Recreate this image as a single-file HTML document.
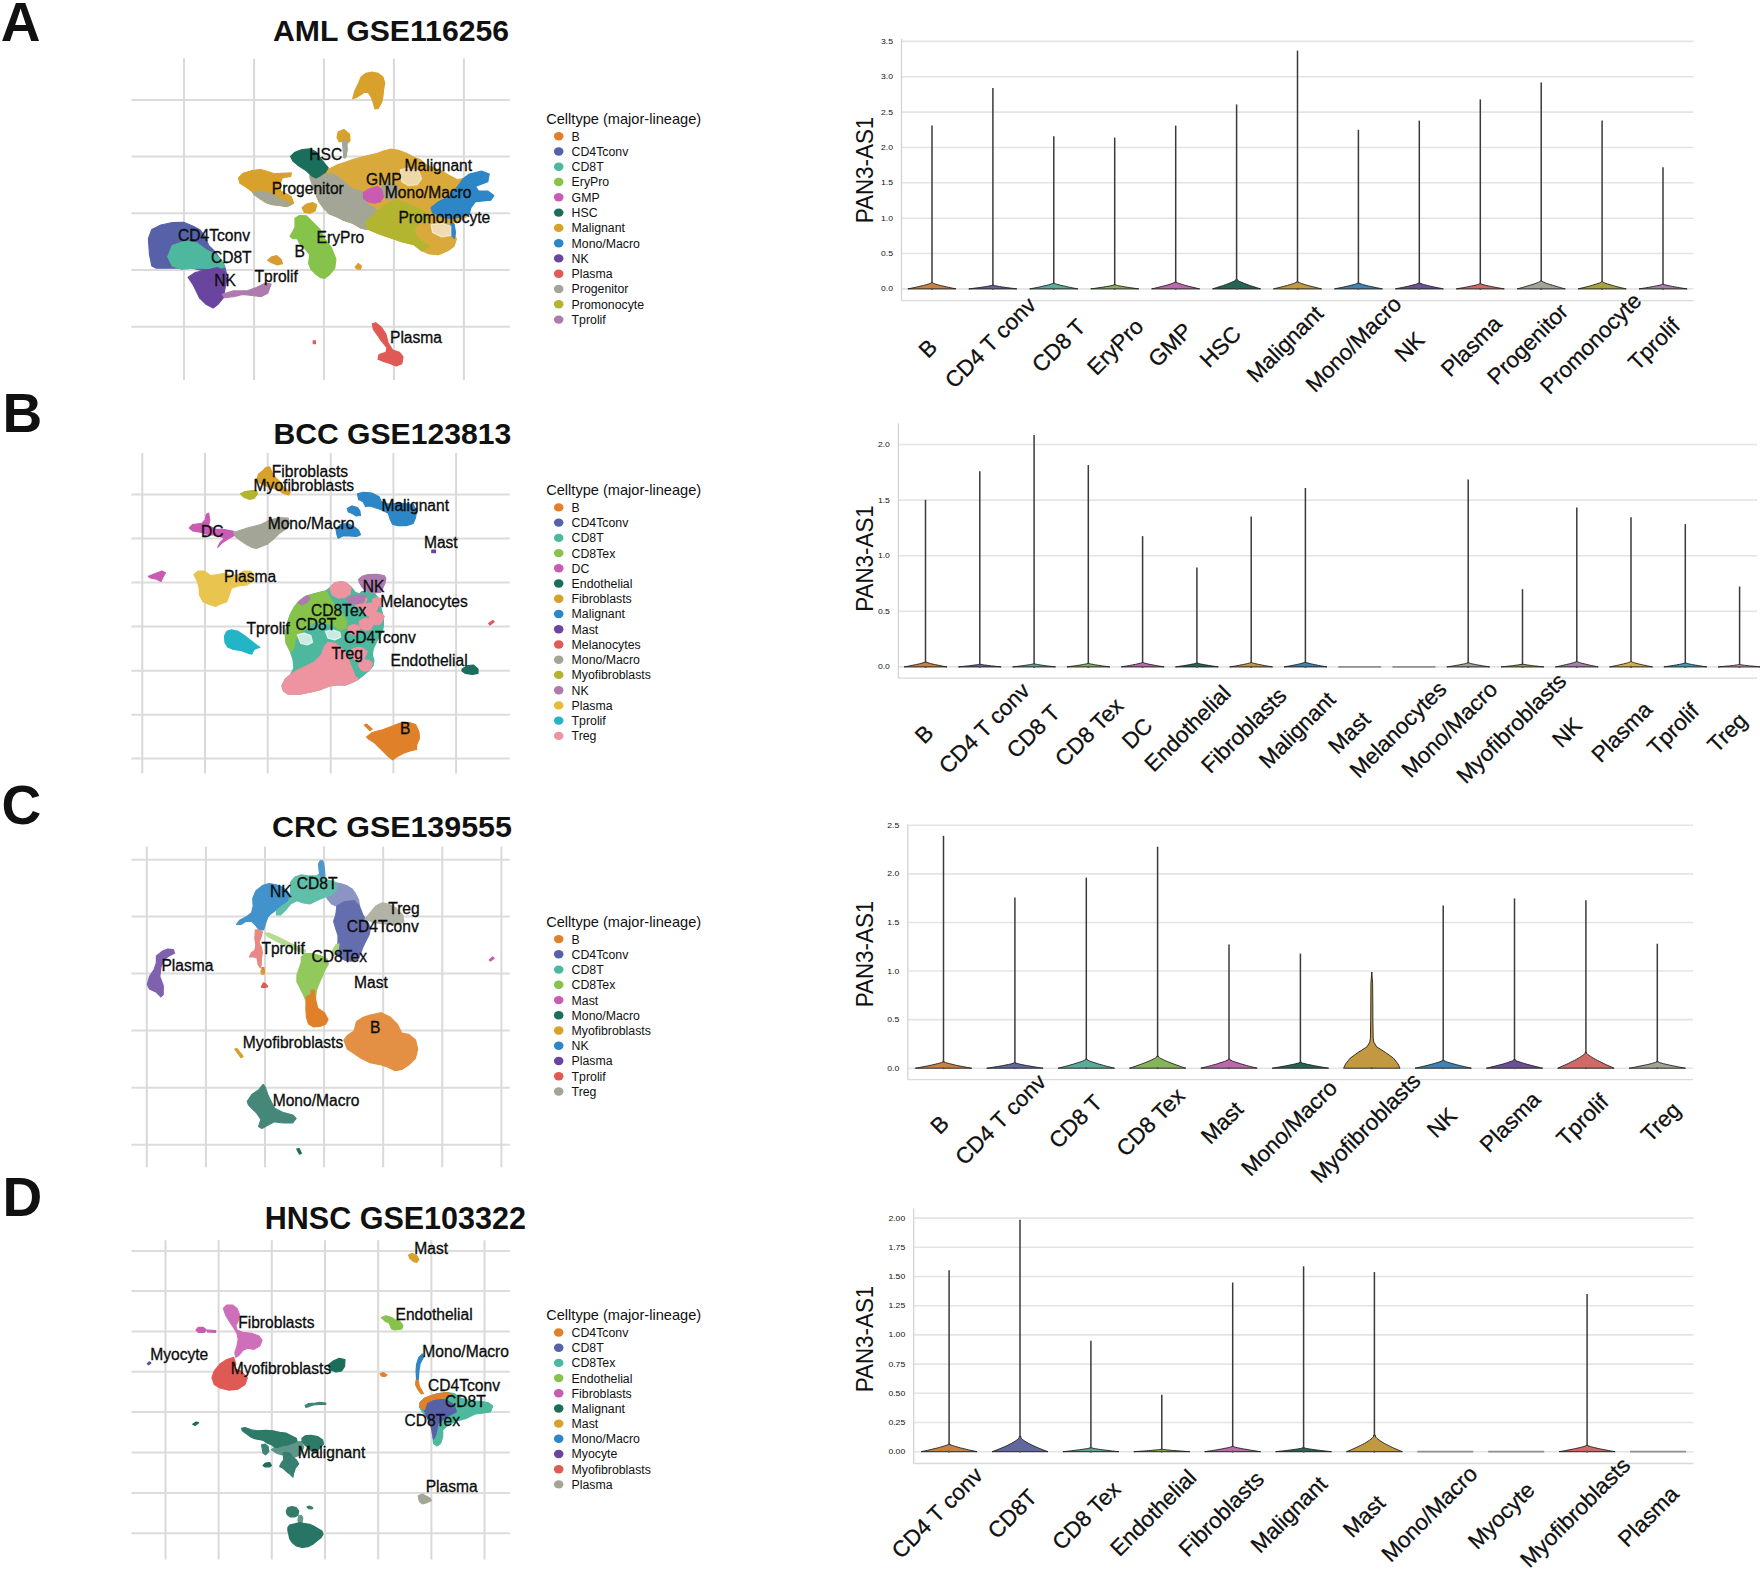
<!DOCTYPE html><html><head><meta charset="utf-8"><title>PAN3-AS1 expression</title>
<style>html,body{margin:0;padding:0;background:#fff;}body{width:1760px;height:1571px;overflow:hidden;}svg{display:block;}text{font-family:'Liberation Sans', Arial, Helvetica, sans-serif;fill:#111;}</style></head><body>
<svg width="1760" height="1571" viewBox="0 0 1760 1571">
<rect width="1760" height="1571" fill="#fff"/>
<text x="0.8" y="40.8" font-size="55" font-weight="bold" fill="#000">A</text>
<text x="2.5" y="432.0" font-size="55" font-weight="bold" fill="#000">B</text>
<text x="1.5" y="823.8" font-size="55" font-weight="bold" fill="#000">C</text>
<text x="2.5" y="1216.0" font-size="55" font-weight="bold" fill="#000">D</text>
<text x="273.0" y="40.6" font-size="30.2" font-weight="bold" fill="#000">AML GSE116256</text>
<text x="273.4" y="444.2" font-size="30.15" font-weight="bold" fill="#000">BCC GSE123813</text>
<text x="272.0" y="836.8" font-size="30.4" font-weight="bold" fill="#000">CRC GSE139555</text>
<text x="264.8" y="1228.9" font-size="30.5" font-weight="bold" fill="#000">HNSC GSE103322</text>
<g id="umap0">
<line x1="184" y1="58.6" x2="184" y2="380" stroke="#D9D9D9" stroke-width="2"/>
<line x1="254.1" y1="58.6" x2="254.1" y2="380" stroke="#D9D9D9" stroke-width="2"/>
<line x1="323.9" y1="58.6" x2="323.9" y2="380" stroke="#D9D9D9" stroke-width="2"/>
<line x1="393.9" y1="58.6" x2="393.9" y2="380" stroke="#D9D9D9" stroke-width="2"/>
<line x1="463.9" y1="58.6" x2="463.9" y2="380" stroke="#D9D9D9" stroke-width="2"/>
<line x1="131.4" y1="99.9" x2="509.8" y2="99.9" stroke="#DCDCDC" stroke-width="2"/>
<line x1="131.4" y1="156.4" x2="509.8" y2="156.4" stroke="#DCDCDC" stroke-width="2"/>
<line x1="131.4" y1="213.2" x2="509.8" y2="213.2" stroke="#DCDCDC" stroke-width="2"/>
<line x1="131.4" y1="270" x2="509.8" y2="270" stroke="#DCDCDC" stroke-width="2"/>
<line x1="131.4" y1="326.8" x2="509.8" y2="326.8" stroke="#DCDCDC" stroke-width="2"/>
<polygon points="352.7,98.7 355.1,90.2 358.7,83 361.1,76.9 366,73.3 372,72.1 378.1,73.3 382.9,76.9 384.7,83 383.5,90.2 382.9,96.3 381.7,102.3 378.1,108.4 375,109 373.2,102.3 370.8,96.3 368.4,92.7 364.8,92.1 361.1,94.5 356.3,97.5" fill="#D7A12B" stroke="#D7A12B" stroke-width="1.2" stroke-linejoin="round" />
<polygon points="337,137.5 338.2,131.8 343.9,129.5 349.5,134.1 350,140.9 347.3,143.2 343.9,140.9 339.3,142" fill="#D7A12B" stroke="#D7A12B" stroke-width="1.2" stroke-linejoin="round" />
<polygon points="342.3,140.9 346.8,140.5 347.3,150 345.7,158 343.9,158 343.2,150" fill="#A3A696" stroke="#A3A696" stroke-width="1.2" stroke-linejoin="round" />
<polygon points="238.4,177.9 243,173.3 251.5,170.7 260.7,169.5 267.6,171.5 274.5,173.8 281.4,173.3 291.4,172.9 290.6,176.4 282.2,177.9 279.9,184.8 280.6,191 286.8,194 291.4,197.1 293.7,203.2 286.8,206.6 279.1,205.4 271.4,204.5 266,202.5 259.9,198.6 254.5,194.8 251.5,191 245.3,186.4 240,183.3" fill="#D7A12B" stroke="#D7A12B" stroke-width="1.2" stroke-linejoin="round" />
<polygon points="315.9,171 328.2,169.5 337.4,164.9 346.6,161.8 352.7,159.5 361.9,157.2 368.1,155.7 377.3,153.4 383.4,151.1 391.1,149.2 398.7,150.3 406.4,153.4 414.1,157.2 420.2,159.5 426.3,164.9 434,168 441.7,171 449.4,175.6 457,179.5 463.2,178.7 469.3,183.3 466.2,217 452.4,223.2 454,232.4 456.3,239.3 454,246.2 447.8,250.8 438.6,254.6 429.4,253.9 421.7,250.8 414.1,244.7 401.8,241.6 392.6,238.5 383.4,235.4 375.7,232.4 368.1,229.3 360.4,227.8 352.7,223.2 343.5,220.1 337.4,217 329.7,214 323.6,207.8 319,201.7 315.9,194 312.8,186.4 309.8,177.2" fill="#DAA93C" stroke="#DAA93C" stroke-width="1.2" stroke-linejoin="round" />
<polygon points="302.1,207.8 306.7,204 312.8,202.5 316.7,204.8 315.1,210.9 309.8,213.2 304.4,212.4" fill="#D7A12B" stroke="#D7A12B" stroke-width="1.2" stroke-linejoin="round" />
<polygon points="253,192.5 260.7,191 269.9,193.3 276,197.1 282.2,200.2 288.3,202.5 291.4,204.8 286.8,206.3 279.1,205.1 271.4,204.5 266,202.5 259.9,198.6 254.5,194.8" fill="#A3A696" stroke="#A3A696" stroke-width="1.2" stroke-linejoin="round" />
<polygon points="309.8,175.6 315.9,177.9 325.1,174.1 334.3,174.1 343.5,181.8 352.7,189.4 361.9,191 365,197.1 368.1,204.8 374.2,207.8 377.3,210.9 374.2,217 369.6,223.2 366.5,229.3 360.4,227.8 352.7,223.2 343.5,220.1 337.4,217 329.7,214 323.6,207.8 319,201.7 315.9,194 312.8,186.4" fill="#A3A696" stroke="#A3A696" stroke-width="1.2" stroke-linejoin="round" />
<polygon points="381.9,184.8 389.5,182.5 397.2,186.4 398.7,194 394.1,198.6 386.5,198.6 382.6,194" fill="#A3A696" stroke="#A3A696" stroke-width="1.2" stroke-linejoin="round" />
<polygon points="290.6,156.4 294.4,152.6 302.1,149.5 309.8,148.8 315.9,151.8 322,160.3 328.2,168 325.1,172.6 320.5,175.6 315.9,177.9 311.3,175.6 306.7,171 302.1,168 297.5,164.9 292.9,161" fill="#1C6E5C" stroke="#1C6E5C" stroke-width="1.2" stroke-linejoin="round" />
<polygon points="368.1,229.3 365,223.2 371.1,217 377.3,210.9 383.4,206.3 391.1,201.7 398.7,200.2 406.4,203.2 414.1,206.3 423.3,210.9 427.9,217 426.3,223.2 418.7,223.2 414.1,229.3 417.1,237 421.7,241.6 429.4,246.2 421.7,250.8 414.1,244.7 401.8,241.6 392.6,238.5 383.4,235.4 375.7,232.4" fill="#B3B530" stroke="#B3B530" stroke-width="1.2" stroke-linejoin="round" />
<polygon points="463.2,178.7 469.3,174.1 481.6,171 489.2,174.1 487.7,181.8 475.4,186.4 478.5,191 487.7,191 493.8,195.6 490.8,200.2 475.4,201.7 470.8,207.8 469.3,214 460.1,217 450.9,218.6 441.7,217 432.5,212.4 431,207.8 438.6,201.7 447.8,197.1 454,191 460.1,183.3" fill="#2D86C5" stroke="#2D86C5" stroke-width="1.2" stroke-linejoin="round" />
<polygon points="450.9,223.2 454,223.9 455.5,232.4 454.3,238.5 451.7,235.4" fill="#2D86C5" stroke="#2D86C5" stroke-width="1.2" stroke-linejoin="round" />
<polygon points="363.5,192.5 368.1,189.4 377.3,186.4 381.9,189.4 383.4,197.1 380.3,201.7 374.2,203.2 368.1,201.7 363.5,198.6" fill="#C95BB3" stroke="#C95BB3" stroke-width="1.2" stroke-linejoin="round" />
<polygon points="400.3,169.5 407.9,168 418.7,171 421.7,178.7 417.1,184.8 407.9,185.6 401.8,181.8" fill="#FFFFFF" stroke="#FFFFFF" stroke-width="1.2" stroke-linejoin="round" fill-opacity="0.55" stroke-opacity="0.55"/>
<polygon points="431,224.7 441.7,223.2 450.9,226.2 450.9,235.4 441.7,237 432.5,232.4" fill="#FFFFFF" stroke="#FFFFFF" stroke-width="1.2" stroke-linejoin="round" fill-opacity="0.6" stroke-opacity="0.6"/>
<polygon points="295,218.2 299.5,215.5 306.4,215.9 313.2,222.7 320,229.5 324.5,238.6 331.4,247.7 335.9,259.1 334.8,268.2 329.1,275 324.5,278.4 320,277.3 315.5,273.9 310.9,269.3 308.6,263.6 309.8,254.5 304.1,247.7 299.5,243.2 297.3,238.6 292.7,238.6 290,236.4 292.7,231.8 295,227.3" fill="#86C34A" stroke="#86C34A" stroke-width="1.2" stroke-linejoin="round" />
<polygon points="267.7,260.2 271.8,256.8 276.8,255.7 280.9,259.1 282.5,263.6 276.8,264.8 271.1,262.5" fill="#D99A35" stroke="#D99A35" stroke-width="1.2" stroke-linejoin="round" />
<polygon points="355.2,267 358.2,263.6 361.4,265.9 360.5,269.3 356.8,268.9" fill="#D7A12B" stroke="#D7A12B" stroke-width="1.2" stroke-linejoin="round" />
<polygon points="148.4,238.6 151.8,229.5 160.9,225 172.3,222.7 183.6,222.3 192.7,226.1 199.5,229.5 205.2,236.4 208.6,245.5 215.5,252.3 220,259.1 224.5,265.9 226.8,275 220,277.3 210.9,275 201.8,270.5 192.7,268.2 183.6,268.2 174.5,268.2 165.5,268.2 156.4,268.2 151.8,265.9 149.5,254.5" fill="#5661A8" stroke="#5661A8" stroke-width="1.2" stroke-linejoin="round" />
<polygon points="172.3,245.5 185.9,240.9 197.3,243.2 206.4,250 215.5,254.5 222.3,261.4 224.5,267 215.5,269.3 204.1,268.2 192.7,268.2 181.4,269.3 172.3,265.9 167.7,256.8" fill="#4DB89E" stroke="#4DB89E" stroke-width="1.2" stroke-linejoin="round" />
<polygon points="188.2,277.3 195,272.7 206.4,270 217.7,267.7 224.5,271.6 226.8,279.5 224.5,290.9 223.4,297.7 217.7,304.5 213.2,308 206.4,304.5 199.5,297.7 195,288.6 192.7,284.1" fill="#6A45A0" stroke="#6A45A0" stroke-width="1.2" stroke-linejoin="round" />
<polygon points="222.3,294.3 233.6,290.9 247.3,290.9 256.4,287.5 265.5,283 271.1,284.1 267.7,293.2 260.9,296.6 251.8,295.5 242.7,294.3 233.6,296.6 224.5,297.7" fill="#AE7BAE" stroke="#AE7BAE" stroke-width="1.2" stroke-linejoin="round" />
<polygon points="372.3,323.9 375.7,322.7 381.4,327.3 385.9,334.1 388.2,343.2 392.7,350 399.5,352.3 403,356.8 401.8,363.6 396.1,365.9 390.5,363.6 383.6,361.4 378,359.1 379.1,354.5 385.9,352.3 387,347.7 381.4,340.9 376.8,334.1 373.4,329.5" fill="#E05A55" stroke="#E05A55" stroke-width="1.2" stroke-linejoin="round" />
<polygon points="313.2,340.9 315.5,340.9 315.5,343.6 313.2,343.6" fill="#E05A55" stroke="#E05A55" stroke-width="1.2" stroke-linejoin="round" />
<text x="309.3" y="159.5" font-size="15.6" fill="#000" stroke="#000" stroke-width="0.3">HSC</text>
<text x="404.5" y="170.5" font-size="15.6" fill="#000" stroke="#000" stroke-width="0.3">Malignant</text>
<text x="366.1" y="185.2" font-size="15.6" fill="#000" stroke="#000" stroke-width="0.3">GMP</text>
<text x="271.8" y="194.3" font-size="15.6" fill="#000" stroke="#000" stroke-width="0.3">Progenitor</text>
<text x="384.8" y="197.7" font-size="15.6" fill="#000" stroke="#000" stroke-width="0.3">Mono/Macro</text>
<text x="398.4" y="222.7" font-size="15.6" fill="#000" stroke="#000" stroke-width="0.3">Promonocyte</text>
<text x="178" y="240.5" font-size="15.6" fill="#000" stroke="#000" stroke-width="0.3">CD4Tconv</text>
<text x="316.6" y="242.7" font-size="15.6" fill="#000" stroke="#000" stroke-width="0.3">EryPro</text>
<text x="294.5" y="257.3" font-size="15.6" fill="#000" stroke="#000" stroke-width="0.3">B</text>
<text x="210.9" y="262.5" font-size="15.6" fill="#000" stroke="#000" stroke-width="0.3">CD8T</text>
<text x="254.5" y="282.3" font-size="15.6" fill="#000" stroke="#000" stroke-width="0.3">Tprolif</text>
<text x="214.3" y="286.4" font-size="15.6" fill="#000" stroke="#000" stroke-width="0.3">NK</text>
<text x="390" y="343.2" font-size="15.6" fill="#000" stroke="#000" stroke-width="0.3">Plasma</text>
</g>
<text x="546.2" y="123.8" font-size="14.6" fill="#222">Celltype (major-lineage)</text>
<ellipse cx="558.7" cy="136.2" rx="4.8" ry="4.2" fill="#E0812A"/>
<text x="571.6" y="140.6" font-size="12.3" fill="#222">B</text>
<ellipse cx="558.7" cy="151.5" rx="4.8" ry="4.2" fill="#5661A8"/>
<text x="571.6" y="155.9" font-size="12.3" fill="#222">CD4Tconv</text>
<ellipse cx="558.7" cy="166.8" rx="4.8" ry="4.2" fill="#4DB89E"/>
<text x="571.6" y="171.2" font-size="12.3" fill="#222">CD8T</text>
<ellipse cx="558.7" cy="182" rx="4.8" ry="4.2" fill="#86C34A"/>
<text x="571.6" y="186.4" font-size="12.3" fill="#222">EryPro</text>
<ellipse cx="558.7" cy="197.3" rx="4.8" ry="4.2" fill="#C95BB3"/>
<text x="571.6" y="201.7" font-size="12.3" fill="#222">GMP</text>
<ellipse cx="558.7" cy="212.6" rx="4.8" ry="4.2" fill="#1C6E5C"/>
<text x="571.6" y="217" font-size="12.3" fill="#222">HSC</text>
<ellipse cx="558.7" cy="227.9" rx="4.8" ry="4.2" fill="#D7A12B"/>
<text x="571.6" y="232.3" font-size="12.3" fill="#222">Malignant</text>
<ellipse cx="558.7" cy="243.2" rx="4.8" ry="4.2" fill="#2D86C5"/>
<text x="571.6" y="247.6" font-size="12.3" fill="#222">Mono/Macro</text>
<ellipse cx="558.7" cy="258.4" rx="4.8" ry="4.2" fill="#6A45A0"/>
<text x="571.6" y="262.8" font-size="12.3" fill="#222">NK</text>
<ellipse cx="558.7" cy="273.7" rx="4.8" ry="4.2" fill="#E05A55"/>
<text x="571.6" y="278.1" font-size="12.3" fill="#222">Plasma</text>
<ellipse cx="558.7" cy="289" rx="4.8" ry="4.2" fill="#A3A696"/>
<text x="571.6" y="293.4" font-size="12.3" fill="#222">Progenitor</text>
<ellipse cx="558.7" cy="304.3" rx="4.8" ry="4.2" fill="#B3B530"/>
<text x="571.6" y="308.7" font-size="12.3" fill="#222">Promonocyte</text>
<ellipse cx="558.7" cy="319.6" rx="4.8" ry="4.2" fill="#AE7BAE"/>
<text x="571.6" y="324" font-size="12.3" fill="#222">Tprolif</text>
<g id="violin0">
<line x1="902" y1="288.9" x2="1693.5" y2="288.9" stroke="#E4E4E4" stroke-width="1.6"/>
<text x="893" y="291.5" text-anchor="end" font-family="DejaVu Sans, sans-serif" font-size="7.2" fill="#333" transform="translate(893 288.9) scale(1.2 0.98) translate(-893 -288.9)">0.0</text>
<line x1="902" y1="253.5" x2="1693.5" y2="253.5" stroke="#E4E4E4" stroke-width="1.6"/>
<text x="893" y="256.1" text-anchor="end" font-family="DejaVu Sans, sans-serif" font-size="7.2" fill="#333" transform="translate(893 253.5) scale(1.2 0.98) translate(-893 -253.5)">0.5</text>
<line x1="902" y1="218.2" x2="1693.5" y2="218.2" stroke="#E4E4E4" stroke-width="1.6"/>
<text x="893" y="220.8" text-anchor="end" font-family="DejaVu Sans, sans-serif" font-size="7.2" fill="#333" transform="translate(893 218.2) scale(1.2 0.98) translate(-893 -218.2)">1.0</text>
<line x1="902" y1="182.8" x2="1693.5" y2="182.8" stroke="#E4E4E4" stroke-width="1.6"/>
<text x="893" y="185.4" text-anchor="end" font-family="DejaVu Sans, sans-serif" font-size="7.2" fill="#333" transform="translate(893 182.8) scale(1.2 0.98) translate(-893 -182.8)">1.5</text>
<line x1="902" y1="147.5" x2="1693.5" y2="147.5" stroke="#E4E4E4" stroke-width="1.6"/>
<text x="893" y="150.1" text-anchor="end" font-family="DejaVu Sans, sans-serif" font-size="7.2" fill="#333" transform="translate(893 147.5) scale(1.2 0.98) translate(-893 -147.5)">2.0</text>
<line x1="902" y1="112.1" x2="1693.5" y2="112.1" stroke="#E4E4E4" stroke-width="1.6"/>
<text x="893" y="114.7" text-anchor="end" font-family="DejaVu Sans, sans-serif" font-size="7.2" fill="#333" transform="translate(893 112.1) scale(1.2 0.98) translate(-893 -112.1)">2.5</text>
<line x1="902" y1="76.8" x2="1693.5" y2="76.8" stroke="#E4E4E4" stroke-width="1.6"/>
<text x="893" y="79.4" text-anchor="end" font-family="DejaVu Sans, sans-serif" font-size="7.2" fill="#333" transform="translate(893 76.8) scale(1.2 0.98) translate(-893 -76.8)">3.0</text>
<line x1="902" y1="41.4" x2="1693.5" y2="41.4" stroke="#E4E4E4" stroke-width="1.6"/>
<text x="893" y="44" text-anchor="end" font-family="DejaVu Sans, sans-serif" font-size="7.2" fill="#333" transform="translate(893 41.4) scale(1.2 0.98) translate(-893 -41.4)">3.5</text>
<line x1="901.5" y1="38.7" x2="901.5" y2="300.7" stroke="#D3D3D3" stroke-width="1.3"/>
<line x1="901.5" y1="300.7" x2="1693.5" y2="300.7" stroke="#D9D9D9" stroke-width="1.3"/>
<polygon points="907.9,288.9 909.8,288.5 911.7,288.1 913.6,287.7 915.4,287.3 917.2,286.9 918.9,286.5 920.6,286.1 922.2,285.8 923.7,285.4 925.2,285 926.7,284.6 928,284.2 929.2,283.8 930.3,283.4 931.2,283 931.2,282.6 932.7,282.6 932.7,283 933.6,283.4 934.7,283.8 935.9,284.2 937.3,284.6 938.7,285 940.2,285.4 941.7,285.8 943.4,286.1 945,286.5 946.7,286.9 948.5,287.3 950.3,287.7 952.2,288.1 954.1,288.5 956,288.9" fill="#C98241" stroke="#1E1E1E" stroke-width="0.9" stroke-linejoin="round"/>
<line x1="932" y1="125.6" x2="932" y2="283.1" stroke="#3A3A3A" stroke-width="1.5"/>
<circle cx="932" cy="288.9" r="1.1" fill="#555"/>
<text x="928" y="348.7" text-anchor="middle" dominant-baseline="central" font-size="22.4" fill="#000" stroke="#000" stroke-width="0.25" transform="rotate(-45 928 348.7)">B</text>
<polygon points="968.8,288.9 970.8,288.7 972.7,288.4 974.5,288.2 976.3,287.9 978.1,287.7 979.8,287.5 981.5,287.2 983.1,287 984.7,286.8 986.2,286.5 987.6,286.3 988.9,286 990.2,285.8 991.3,285.6 992.2,285.3 992.2,285.1 993.6,285.1 993.6,285.3 994.5,285.6 995.6,285.8 996.9,286 998.2,286.3 999.6,286.5 1001.1,286.8 1002.7,287 1004.3,287.2 1005.9,287.5 1007.7,287.7 1009.4,287.9 1011.3,288.2 1013.1,288.4 1015,288.7 1016.9,288.9" fill="#60689E" stroke="#1E1E1E" stroke-width="0.9" stroke-linejoin="round"/>
<line x1="992.9" y1="88.1" x2="992.9" y2="285.6" stroke="#3A3A3A" stroke-width="1.5"/>
<circle cx="992.9" cy="288.9" r="1.1" fill="#555"/>
<text x="990.5" y="342.8" text-anchor="middle" dominant-baseline="central" font-size="22.4" fill="#000" stroke="#000" stroke-width="0.25" transform="rotate(-45 990.5 342.8)">CD4 T conv</text>
<polygon points="1029.7,288.9 1031.7,288.5 1033.6,288.2 1035.4,287.8 1037.3,287.4 1039,287.1 1040.7,286.7 1042.4,286.3 1044,285.9 1045.6,285.6 1047.1,285.2 1048.5,284.8 1049.8,284.5 1051.1,284.1 1052.2,283.7 1053.1,283.4 1053.1,283 1054.5,283 1054.5,283.4 1055.4,283.7 1056.5,284.1 1057.8,284.5 1059.1,284.8 1060.5,285.2 1062,285.6 1063.6,285.9 1065.2,286.3 1066.9,286.7 1068.6,287.1 1070.4,287.4 1072.2,287.8 1074,288.2 1075.9,288.5 1077.9,288.9" fill="#5AAB97" stroke="#1E1E1E" stroke-width="0.9" stroke-linejoin="round"/>
<line x1="1053.8" y1="136.2" x2="1053.8" y2="283.5" stroke="#3A3A3A" stroke-width="1.5"/>
<circle cx="1053.8" cy="288.9" r="1.1" fill="#555"/>
<text x="1058.8" y="345.8" text-anchor="middle" dominant-baseline="central" font-size="22.4" fill="#000" stroke="#000" stroke-width="0.25" transform="rotate(-45 1058.8 345.8)">CD8 T</text>
<polygon points="1090.7,288.9 1092.6,288.6 1094.5,288.4 1096.4,288.1 1098.2,287.8 1099.9,287.6 1101.7,287.3 1103.3,287.1 1105,286.8 1106.5,286.5 1108,286.3 1109.4,286 1110.8,285.8 1112,285.5 1113.1,285.2 1114,285 1114,284.7 1115.5,284.7 1115.5,285 1116.3,285.2 1117.5,285.5 1118.7,285.8 1120,286 1121.5,286.3 1122.9,286.5 1124.5,286.8 1126.1,287.1 1127.8,287.3 1129.5,287.6 1131.3,287.8 1133.1,288.1 1135,288.4 1136.9,288.6 1138.8,288.9" fill="#86B459" stroke="#1E1E1E" stroke-width="0.9" stroke-linejoin="round"/>
<line x1="1114.7" y1="137.6" x2="1114.7" y2="285.2" stroke="#3A3A3A" stroke-width="1.5"/>
<circle cx="1114.7" cy="288.9" r="1.1" fill="#555"/>
<text x="1115.4" y="346.9" text-anchor="middle" dominant-baseline="central" font-size="22.4" fill="#000" stroke="#000" stroke-width="0.25" transform="rotate(-45 1115.4 346.9)">EryPro</text>
<polygon points="1151.6,288.9 1153.5,288.5 1155.4,288 1157.3,287.6 1159.1,287.1 1160.9,286.7 1162.6,286.3 1164.3,285.8 1165.9,285.4 1167.4,285 1168.9,284.5 1170.3,284.1 1171.7,283.6 1172.9,283.2 1174,282.8 1174.9,282.3 1174.9,281.9 1176.4,281.9 1176.4,282.3 1177.3,282.8 1178.4,283.2 1179.6,283.6 1181,284.1 1182.4,284.5 1183.9,285 1185.4,285.4 1187,285.8 1188.7,286.3 1190.4,286.7 1192.2,287.1 1194,287.6 1195.9,288 1197.8,288.5 1199.7,288.9" fill="#BB69AB" stroke="#1E1E1E" stroke-width="0.9" stroke-linejoin="round"/>
<line x1="1175.7" y1="125.6" x2="1175.7" y2="282.4" stroke="#3A3A3A" stroke-width="1.5"/>
<circle cx="1175.7" cy="288.9" r="1.1" fill="#555"/>
<text x="1170.2" y="345" text-anchor="middle" dominant-baseline="central" font-size="22.4" fill="#000" stroke="#000" stroke-width="0.25" transform="rotate(-45 1170.2 345)">GMP</text>
<polygon points="1212.5,288.9 1214.4,288.3 1216.3,287.7 1218.2,287.1 1220,286.5 1221.8,286 1223.5,285.4 1225.2,284.8 1226.8,284.2 1228.4,283.6 1229.9,283 1231.3,282.4 1232.6,281.8 1233.8,281.3 1235,280.7 1235.9,280.1 1235.9,279.5 1237.3,279.5 1237.3,280.1 1238.2,280.7 1239.3,281.3 1240.5,281.8 1241.9,282.4 1243.3,283 1244.8,283.6 1246.4,284.2 1248,284.8 1249.6,285.4 1251.4,286 1253.1,286.5 1254.9,287.1 1256.8,287.7 1258.7,288.3 1260.6,288.9" fill="#266456" stroke="#1E1E1E" stroke-width="0.9" stroke-linejoin="round"/>
<line x1="1236.6" y1="104.4" x2="1236.6" y2="280" stroke="#3A3A3A" stroke-width="1.5"/>
<circle cx="1236.6" cy="288.9" r="1.1" fill="#555"/>
<text x="1220.5" y="346.8" text-anchor="middle" dominant-baseline="central" font-size="22.4" fill="#000" stroke="#000" stroke-width="0.25" transform="rotate(-45 1220.5 346.8)">HSC</text>
<polygon points="1273.4,288.9 1275.4,288.4 1277.3,288 1279.1,287.5 1280.9,287.1 1282.7,286.6 1284.4,286.2 1286.1,285.8 1287.7,285.3 1289.3,284.8 1290.8,284.4 1292.2,283.9 1293.5,283.5 1294.8,283 1295.9,282.6 1296.8,282.1 1296.8,281.7 1298.2,281.7 1298.2,282.1 1299.1,282.6 1300.2,283 1301.5,283.5 1302.8,283.9 1304.2,284.4 1305.7,284.8 1307.3,285.3 1308.9,285.8 1310.6,286.2 1312.3,286.6 1314.1,287.1 1315.9,287.5 1317.7,288 1319.6,288.4 1321.6,288.9" fill="#C29940" stroke="#1E1E1E" stroke-width="0.9" stroke-linejoin="round"/>
<line x1="1297.5" y1="50.6" x2="1297.5" y2="282.2" stroke="#3A3A3A" stroke-width="1.5"/>
<circle cx="1297.5" cy="288.9" r="1.1" fill="#555"/>
<text x="1285" y="344" text-anchor="middle" dominant-baseline="central" font-size="22.4" fill="#000" stroke="#000" stroke-width="0.25" transform="rotate(-45 1285 344)">Malignant</text>
<polygon points="1334.4,288.9 1336.3,288.5 1338.2,288.1 1340.1,287.8 1341.9,287.4 1343.6,287 1345.4,286.6 1347,286.3 1348.6,285.9 1350.2,285.5 1351.7,285.1 1353.1,284.8 1354.5,284.4 1355.7,284 1356.8,283.6 1357.7,283.3 1357.7,282.9 1359.1,282.9 1359.1,283.3 1360,283.6 1361.2,284 1362.4,284.4 1363.7,284.8 1365.1,285.1 1366.6,285.5 1368.2,285.9 1369.8,286.3 1371.5,286.6 1373.2,287 1375,287.4 1376.8,287.8 1378.7,288.1 1380.6,288.5 1382.5,288.9" fill="#4083B2" stroke="#1E1E1E" stroke-width="0.9" stroke-linejoin="round"/>
<line x1="1358.4" y1="129.8" x2="1358.4" y2="283.4" stroke="#3A3A3A" stroke-width="1.5"/>
<circle cx="1358.4" cy="288.9" r="1.1" fill="#555"/>
<text x="1353.6" y="344.1" text-anchor="middle" dominant-baseline="central" font-size="22.4" fill="#000" stroke="#000" stroke-width="0.25" transform="rotate(-45 1353.6 344.1)">Mono/Macro</text>
<polygon points="1395.3,288.9 1397.2,288.5 1399.1,288.1 1401,287.8 1402.8,287.4 1404.6,287 1406.3,286.6 1408,286.3 1409.6,285.9 1411.1,285.5 1412.6,285.1 1414,284.8 1415.4,284.4 1416.6,284 1417.7,283.6 1418.6,283.3 1418.6,282.9 1420.1,282.9 1420.1,283.3 1421,283.6 1422.1,284 1423.3,284.4 1424.7,284.8 1426.1,285.1 1427.6,285.5 1429.1,285.9 1430.7,286.3 1432.4,286.6 1434.1,287 1435.9,287.4 1437.7,287.8 1439.6,288.1 1441.5,288.5 1443.4,288.9" fill="#6C5095" stroke="#1E1E1E" stroke-width="0.9" stroke-linejoin="round"/>
<line x1="1419.3" y1="120.6" x2="1419.3" y2="283.4" stroke="#3A3A3A" stroke-width="1.5"/>
<circle cx="1419.3" cy="288.9" r="1.1" fill="#555"/>
<text x="1409.6" y="347" text-anchor="middle" dominant-baseline="central" font-size="22.4" fill="#000" stroke="#000" stroke-width="0.25" transform="rotate(-45 1409.6 347)">NK</text>
<polygon points="1456.2,288.9 1458.1,288.6 1460,288.2 1461.9,287.9 1463.7,287.6 1465.5,287.2 1467.2,286.9 1468.9,286.6 1470.5,286.2 1472.1,285.9 1473.5,285.6 1475,285.3 1476.3,284.9 1477.5,284.6 1478.7,284.3 1479.5,283.9 1479.5,283.6 1481,283.6 1481,283.9 1481.9,284.3 1483,284.6 1484.2,284.9 1485.6,285.3 1487,285.6 1488.5,285.9 1490,286.2 1491.7,286.6 1493.3,286.9 1495.1,287.2 1496.8,287.6 1498.6,287.9 1500.5,288.2 1502.4,288.6 1504.3,288.9" fill="#CF6A66" stroke="#1E1E1E" stroke-width="0.9" stroke-linejoin="round"/>
<line x1="1480.3" y1="99.4" x2="1480.3" y2="284.1" stroke="#3A3A3A" stroke-width="1.5"/>
<circle cx="1480.3" cy="288.9" r="1.1" fill="#555"/>
<text x="1471.4" y="346.4" text-anchor="middle" dominant-baseline="central" font-size="22.4" fill="#000" stroke="#000" stroke-width="0.25" transform="rotate(-45 1471.4 346.4)">Plasma</text>
<polygon points="1517.1,288.9 1519.1,288.4 1521,287.9 1522.8,287.4 1524.6,286.8 1526.4,286.3 1528.1,285.8 1529.8,285.3 1531.4,284.8 1533,284.3 1534.5,283.8 1535.9,283.3 1537.2,282.8 1538.5,282.2 1539.6,281.7 1540.5,281.2 1540.5,280.7 1541.9,280.7 1541.9,281.2 1542.8,281.7 1543.9,282.2 1545.2,282.8 1546.5,283.3 1547.9,283.8 1549.4,284.3 1551,284.8 1552.6,285.3 1554.3,285.8 1556,286.3 1557.7,286.8 1559.6,287.4 1561.4,287.9 1563.3,288.4 1565.3,288.9" fill="#A2A498" stroke="#1E1E1E" stroke-width="0.9" stroke-linejoin="round"/>
<line x1="1541.2" y1="82.5" x2="1541.2" y2="281.2" stroke="#3A3A3A" stroke-width="1.5"/>
<circle cx="1541.2" cy="288.9" r="1.1" fill="#555"/>
<text x="1527.8" y="344.1" text-anchor="middle" dominant-baseline="central" font-size="22.4" fill="#000" stroke="#000" stroke-width="0.25" transform="rotate(-45 1527.8 344.1)">Progenitor</text>
<polygon points="1578.1,288.9 1580,288.4 1581.9,288 1583.7,287.5 1585.6,287.1 1587.3,286.6 1589.1,286.2 1590.7,285.7 1592.3,285.2 1593.9,284.8 1595.4,284.3 1596.8,283.9 1598.1,283.4 1599.4,283 1600.5,282.5 1601.4,282.1 1601.4,281.6 1602.8,281.6 1602.8,282.1 1603.7,282.5 1604.8,283 1606.1,283.4 1607.4,283.9 1608.8,284.3 1610.3,284.8 1611.9,285.2 1613.5,285.7 1615.2,286.2 1616.9,286.6 1618.7,287.1 1620.5,287.5 1622.3,288 1624.2,288.4 1626.2,288.9" fill="#A3A441" stroke="#1E1E1E" stroke-width="0.9" stroke-linejoin="round"/>
<line x1="1602.1" y1="120.6" x2="1602.1" y2="282.1" stroke="#3A3A3A" stroke-width="1.5"/>
<circle cx="1602.1" cy="288.9" r="1.1" fill="#555"/>
<text x="1590.9" y="343.6" text-anchor="middle" dominant-baseline="central" font-size="22.4" fill="#000" stroke="#000" stroke-width="0.25" transform="rotate(-45 1590.9 343.6)">Promonocyte</text>
<polygon points="1639,288.9 1640.9,288.6 1642.8,288.3 1644.7,288 1646.5,287.7 1648.3,287.4 1650,287.1 1651.6,286.8 1653.3,286.5 1654.8,286.2 1656.3,285.9 1657.7,285.6 1659.1,285.3 1660.3,285 1661.4,284.7 1662.3,284.4 1662.3,284.1 1663.8,284.1 1663.8,284.4 1664.7,284.7 1665.8,285 1667,285.3 1668.3,285.6 1669.8,285.9 1671.3,286.2 1672.8,286.5 1674.4,286.8 1676.1,287.1 1677.8,287.4 1679.6,287.7 1681.4,288 1683.3,288.3 1685.2,288.6 1687.1,288.9" fill="#A881A8" stroke="#1E1E1E" stroke-width="0.9" stroke-linejoin="round"/>
<line x1="1663" y1="167.3" x2="1663" y2="284.6" stroke="#3A3A3A" stroke-width="1.5"/>
<circle cx="1663" cy="288.9" r="1.1" fill="#555"/>
<text x="1654.1" y="344.1" text-anchor="middle" dominant-baseline="central" font-size="22.4" fill="#000" stroke="#000" stroke-width="0.25" transform="rotate(-45 1654.1 344.1)">Tprolif</text>
<text x="865.0" y="170.0" text-anchor="middle" dominant-baseline="central" font-size="22.4" transform="translate(865.0 170.0) rotate(-90) scale(1 1.05) translate(-865.0 -170.0)">PAN3-AS1</text>
</g>
<g id="umap1">
<line x1="142.3" y1="453" x2="142.3" y2="773.4" stroke="#D9D9D9" stroke-width="2"/>
<line x1="205" y1="453" x2="205" y2="773.4" stroke="#D9D9D9" stroke-width="2"/>
<line x1="267.7" y1="453" x2="267.7" y2="773.4" stroke="#D9D9D9" stroke-width="2"/>
<line x1="330.7" y1="453" x2="330.7" y2="773.4" stroke="#D9D9D9" stroke-width="2"/>
<line x1="393.4" y1="453" x2="393.4" y2="773.4" stroke="#D9D9D9" stroke-width="2"/>
<line x1="456.1" y1="453" x2="456.1" y2="773.4" stroke="#D9D9D9" stroke-width="2"/>
<line x1="131.4" y1="494.5" x2="509.8" y2="494.5" stroke="#DCDCDC" stroke-width="2"/>
<line x1="131.4" y1="538.4" x2="509.8" y2="538.4" stroke="#DCDCDC" stroke-width="2"/>
<line x1="131.4" y1="582.5" x2="509.8" y2="582.5" stroke="#DCDCDC" stroke-width="2"/>
<line x1="131.4" y1="626.6" x2="509.8" y2="626.6" stroke="#DCDCDC" stroke-width="2"/>
<line x1="131.4" y1="670.7" x2="509.8" y2="670.7" stroke="#DCDCDC" stroke-width="2"/>
<line x1="131.4" y1="714.8" x2="509.8" y2="714.8" stroke="#DCDCDC" stroke-width="2"/>
<line x1="131.4" y1="758.6" x2="509.8" y2="758.6" stroke="#DCDCDC" stroke-width="2"/>
<polygon points="265.7,467.7 269.7,466.9 272,472.5 275.2,477.3 280,482 283.2,486.8 290.3,492.4 288.7,494.8 283.2,493.2 278.4,490 272,487.6 265.7,486 259.3,482.8 256.9,478.9 258.5,474.1 262.5,470.9" fill="#D7A12B" stroke="#D7A12B" stroke-width="1.2" stroke-linejoin="round" />
<polygon points="240.5,493.9 245,491.6 251.8,490.5 256.4,490.5 257.5,493.9 254.1,498.4 249.5,499.5 243.9,497.3" fill="#B3B530" stroke="#B3B530" stroke-width="1.2" stroke-linejoin="round" />
<polygon points="357.5,493.9 363.2,492.3 372.3,493.2 379.1,496.8 381.4,501.8 388.2,504.1 399.5,503 413.2,504.5 416.6,510.9 415.5,517.7 413.2,523.4 406.4,525.7 398.4,525.7 392.7,524.5 390.5,520 388.2,513.2 381.4,509.8 374.5,507.5 370,505.9 365.5,506.4 363.2,501.8 358.6,499.5" fill="#2D86C5" stroke="#2D86C5" stroke-width="1.2" stroke-linejoin="round" />
<polygon points="347.3,508.6 351.8,505.9 357.5,507.5 359.8,510.9 360.5,515.5 356.4,515.9 351.8,513.2 348.4,512" fill="#2D86C5" stroke="#2D86C5" stroke-width="1.2" stroke-linejoin="round" />
<polygon points="335.9,529.1 340.5,524.5 347.3,523.4 354.1,526.8 358.6,530.2 360.5,534.8 356.4,536.4 349.5,535.9 342.7,535.9 338.2,538.2 337,534.8" fill="#2D86C5" stroke="#2D86C5" stroke-width="1.2" stroke-linejoin="round" />
<polygon points="189.3,528 192.7,524.5 201.8,523.4 205.2,520 206.4,514.3 208.6,513.2 209.8,520 208.6,525.7 215.5,529.1 224.5,529.5 233.6,531.4 235.9,534.8 229.1,538.2 222.3,542.7 217.7,547.3 220,542.7 224.5,538.2 215.5,534.8 208.6,534.8 201.8,532.5 192.7,530.9" fill="#C95BB3" stroke="#C95BB3" stroke-width="1.2" stroke-linejoin="round" />
<polygon points="148.4,576.4 154.1,574.1 162,571.1 165.5,572.7 163.2,576.8 160.9,581.4 156.4,579.1 150.7,578" fill="#C95BB3" stroke="#C95BB3" stroke-width="1.2" stroke-linejoin="round" />
<polygon points="233.6,532.5 247.3,528 260.9,524.5 270,520 279.1,517.7 288.2,518.2 289.3,523.4 285.9,529.1 279.1,533.6 274.5,538.2 267.7,543.9 256.4,548.4 251.8,547.3 247.3,545 240.5,540.5 235.9,537" fill="#A3A696" stroke="#A3A696" stroke-width="1.2" stroke-linejoin="round" />
<polygon points="193.9,574.5 198.4,571.1 204.1,571.1 210.9,575.7 217.7,574.5 224.5,573.4 231.4,575.7 238.2,574.5 243.9,571.1 250.7,571.1 254.1,575.7 251.8,581.4 247.3,584.8 238.2,585.9 231.4,588.2 229.1,595 226.8,601.8 220,604.1 215.5,606.4 208.6,604.1 203,601.8 199.5,595 199.1,588.2 197.3,581.4" fill="#E9C54F" stroke="#E9C54F" stroke-width="1.2" stroke-linejoin="round" />
<polygon points="224.5,635.9 226.8,631.4 231.4,629.8 238.2,631.4 245,635.9 250.7,640.5 256.4,645 259.8,647.3 254.1,649.5 251.8,654.1 247.3,653 241.6,650.7 233.6,649.5 228,647.3 225,642.7" fill="#22B5C8" stroke="#22B5C8" stroke-width="1.2" stroke-linejoin="round" />
<polygon points="329.7,587.9 334.8,582.8 341.6,581.5 345.9,582.8 351,587 355.2,592.2 359.5,593.9 362,591.3 368,592.2 374.8,593.9 378.2,598.1 379.9,604.1 381.7,610.9 383.4,617.7 383.4,625.4 382.5,631.4 379.1,637.3 375.7,643.3 373.1,649.3 372.3,655.2 374,660.3 373.1,665.5 368.9,670.6 363.8,674.8 358.6,679.1 351.8,682.5 345,685.1 338.2,684.6 329.7,685.9 321.1,689.3 310.9,691.9 298.1,694.4 288.8,694.4 283.6,691 281.9,685.9 285.3,679.1 290.5,674.8 293.9,668 293,659.5 290.5,651.8 286.2,643.3 285.3,634.8 287,624.5 290.5,614.3 294.7,606.6 299,601.5 305.8,596.4 314.3,593.9 321.1,592.2 326.3,590.5" fill="#4DB89E" stroke="#4DB89E" stroke-width="1.2" stroke-linejoin="round" />
<polygon points="329.7,587.9 334.8,582.8 341.6,581.5 345.9,582.8 351,587 350.1,593.9 345,597.3 338.2,598.1 332.2,594.7" fill="#EE93A0" stroke="#EE93A0" stroke-width="1.2" stroke-linejoin="round" />
<polygon points="281.9,685.9 285.3,679.1 291.3,674 298.1,669.7 305.8,666.3 314.3,662 321.1,655.2 324.5,646.7 328,642.4 334.8,643.3 339.9,646.7 345,651.8 348.4,659.5 351.8,668 355.2,676.5 358.6,679.1 351.8,682.5 345,685.1 338.2,684.6 329.7,685.9 321.1,689.3 310.9,691.9 298.1,694.4 288.8,694.4 283.6,691" fill="#EE93A0" stroke="#EE93A0" stroke-width="1.2" stroke-linejoin="round" />
<polygon points="365.3,603.2 363.4,606.3 358.7,607.2 355.5,605.4 352.9,601.7 353.4,598 358.5,595.7 362.8,596.3 367,599.1" fill="#EE93A0" stroke="#EE93A0" stroke-width="1.2" stroke-linejoin="round" />
<polygon points="376.2,611.5 374.1,615.1 368.9,616.1 365.2,614.1 362.3,609.9 362.9,605.6 368.5,603.2 373.5,603.8 378.1,607.1" fill="#EE93A0" stroke="#EE93A0" stroke-width="1.2" stroke-linejoin="round" />
<polygon points="382.5,620.4 380.5,623.8 375.5,624.7 372.1,622.8 369.4,618.9 370,614.8 375.3,612.6 379.9,613.1 384.3,616.2" fill="#EE93A0" stroke="#EE93A0" stroke-width="1.2" stroke-linejoin="round" />
<polygon points="372.3,626.3 370.3,629.6 365.3,630.5 361.9,628.6 359.2,624.7 359.7,620.7 365,618.4 369.7,618.9 374.1,622.1" fill="#EE93A0" stroke="#EE93A0" stroke-width="1.2" stroke-linejoin="round" />
<polygon points="381.6,603.2 380.2,605.6 376.6,606.2 374.2,604.9 372.3,602.1 372.7,599.3 376.5,597.7 379.7,598 382.8,600.3" fill="#EE93A0" stroke="#EE93A0" stroke-width="1.2" stroke-linejoin="round" />
<polygon points="365.3,656.2 363.1,659.9 357.5,660.9 353.6,658.8 350.6,654.5 351.3,649.9 357.2,647.4 362.4,648 367.2,651.4" fill="#EE93A0" stroke="#EE93A0" stroke-width="1.2" stroke-linejoin="round" />
<polygon points="370.9,667.2 369,670.3 364.3,671.2 361.1,669.4 358.6,665.7 359.1,662 364.1,659.8 368.4,660.3 372.6,663.2" fill="#EE93A0" stroke="#EE93A0" stroke-width="1.2" stroke-linejoin="round" />
<polygon points="358.8,631.2 357.2,633.9 353.1,634.7 350.2,633.1 348,629.9 348.5,626.6 352.8,624.7 356.7,625.1 360.3,627.7" fill="#EE93A0" stroke="#EE93A0" stroke-width="1.2" stroke-linejoin="round" />
<polygon points="286.2,643.3 285.3,634.8 287,624.5 290.5,614.3 294.7,606.6 299,601.5 305.8,596.4 314.3,593.9 321.1,592.2 326.3,591.3 329.7,598.1 334.8,605.8 342.4,614.3 346.7,621.1 346.7,628 339.9,629.7 334.8,626.3 329.7,624.5 322.8,621.1 316,621.1 310.9,624.5 304.1,629.7 298.1,634.8 294.7,641.6 293.9,648.4 291.3,651.8" fill="#86C34A" stroke="#86C34A" stroke-width="1.2" stroke-linejoin="round" />
<polygon points="298.1,602.4 304.1,597.3 308.4,595.6 310.1,599 306.6,602.4 301.5,604.9" fill="#AE7BAE" stroke="#AE7BAE" stroke-width="1.2" stroke-linejoin="round" />
<polygon points="346.7,599 353.5,595.6 360.3,594.7 365.5,595.6 363.8,602.4 355.2,604.1 348.4,603.2" fill="#AE7BAE" stroke="#AE7BAE" stroke-width="1.2" stroke-linejoin="round" />
<polygon points="297.3,634.8 304.1,633.1 310.9,635.6 312.6,642.4 307.5,645 300.7,643.3" fill="#FFFFFF" stroke="#FFFFFF" stroke-width="1.2" stroke-linejoin="round" fill-opacity="0.7" stroke-opacity="0.7"/>
<polygon points="325.4,631.4 333.1,629.7 339.9,632.2 340.7,637.3 334.8,639.9 328,638.2" fill="#FFFFFF" stroke="#FFFFFF" stroke-width="1.2" stroke-linejoin="round" fill-opacity="0.7" stroke-opacity="0.7"/>
<polygon points="358.6,579.4 362,576.4 368,574.7 376.5,574.3 384.2,575.5 385.9,578.5 385.1,582.8 382.5,588.8 380.8,592.2 375.7,593 370.6,592.2 365.5,590.5 362,587 359.5,582.8" fill="#AE7BAE" stroke="#AE7BAE" stroke-width="1.2" stroke-linejoin="round" />
<polygon points="366.6,737 372.3,732.5 381.4,730.2 390.5,726.8 399.5,723.4 408.6,722.3 415.5,724.5 418.9,731.4 419.5,738.2 416.6,745 416.6,749.5 410.9,750.7 404.1,753 397.3,756.4 392.7,759.8 388.2,756.4 381.4,749.5 374.5,742.7 368.9,739.3" fill="#E0812A" stroke="#E0812A" stroke-width="1.2" stroke-linejoin="round" />
<polygon points="364.3,725 366.6,724.1 372.3,729.1 370,730.5" fill="#E0812A" stroke="#E0812A" stroke-width="1.2" stroke-linejoin="round" />
<polygon points="462,668.9 467.7,665.5 473.4,665 478,668.9 478,673.4 472.3,674.5 465.5,673.4 462,671.1" fill="#1C6E5C" stroke="#1C6E5C" stroke-width="1.2" stroke-linejoin="round" />
<polygon points="431.8,550 435.5,550 435.5,552.7 431.8,552.7" fill="#6A45A0" stroke="#6A45A0" stroke-width="1.2" stroke-linejoin="round" />
<polygon points="488.6,623.4 492.7,620.5 494.1,621.8 490,625" fill="#E05A55" stroke="#E05A55" stroke-width="1.2" stroke-linejoin="round" />
<text x="271.8" y="476.8" font-size="15.6" fill="#000" stroke="#000" stroke-width="0.3">Fibroblasts</text>
<text x="253.6" y="491.1" font-size="15.6" fill="#000" stroke="#000" stroke-width="0.3">Myofibroblasts</text>
<text x="381.4" y="510.9" font-size="15.6" fill="#000" stroke="#000" stroke-width="0.3">Malignant</text>
<text x="267.7" y="528.6" font-size="15.6" fill="#000" stroke="#000" stroke-width="0.3">Mono/Macro</text>
<text x="201.1" y="537" font-size="15.6" fill="#000" stroke="#000" stroke-width="0.3">DC</text>
<text x="423.9" y="547.7" font-size="15.6" fill="#000" stroke="#000" stroke-width="0.3">Mast</text>
<text x="224.1" y="582" font-size="15.6" fill="#000" stroke="#000" stroke-width="0.3">Plasma</text>
<text x="362.7" y="591.6" font-size="15.6" fill="#000" stroke="#000" stroke-width="0.3">NK</text>
<text x="380.2" y="606.8" font-size="15.6" fill="#000" stroke="#000" stroke-width="0.3">Melanocytes</text>
<text x="310.9" y="615.5" font-size="15.6" fill="#000" stroke="#000" stroke-width="0.3">CD8Tex</text>
<text x="295.5" y="630.2" font-size="15.6" fill="#000" stroke="#000" stroke-width="0.3">CD8T</text>
<text x="246.6" y="634.3" font-size="15.6" fill="#000" stroke="#000" stroke-width="0.3">Tprolif</text>
<text x="343.9" y="643.4" font-size="15.6" fill="#000" stroke="#000" stroke-width="0.3">CD4Tconv</text>
<text x="331.4" y="658.6" font-size="15.6" fill="#000" stroke="#000" stroke-width="0.3">Treg</text>
<text x="390.5" y="665.5" font-size="15.6" fill="#000" stroke="#000" stroke-width="0.3">Endothelial</text>
<text x="400" y="733.6" font-size="15.6" fill="#000" stroke="#000" stroke-width="0.3">B</text>
</g>
<text x="546.2" y="495.1" font-size="14.6" fill="#222">Celltype (major-lineage)</text>
<ellipse cx="558.7" cy="507.4" rx="4.8" ry="4.2" fill="#E0812A"/>
<text x="571.6" y="511.8" font-size="12.3" fill="#222">B</text>
<ellipse cx="558.7" cy="522.6" rx="4.8" ry="4.2" fill="#5661A8"/>
<text x="571.6" y="527" font-size="12.3" fill="#222">CD4Tconv</text>
<ellipse cx="558.7" cy="537.9" rx="4.8" ry="4.2" fill="#4DB89E"/>
<text x="571.6" y="542.3" font-size="12.3" fill="#222">CD8T</text>
<ellipse cx="558.7" cy="553.1" rx="4.8" ry="4.2" fill="#86C34A"/>
<text x="571.6" y="557.5" font-size="12.3" fill="#222">CD8Tex</text>
<ellipse cx="558.7" cy="568.3" rx="4.8" ry="4.2" fill="#C95BB3"/>
<text x="571.6" y="572.7" font-size="12.3" fill="#222">DC</text>
<ellipse cx="558.7" cy="583.5" rx="4.8" ry="4.2" fill="#1C6E5C"/>
<text x="571.6" y="587.9" font-size="12.3" fill="#222">Endothelial</text>
<ellipse cx="558.7" cy="598.8" rx="4.8" ry="4.2" fill="#D7A12B"/>
<text x="571.6" y="603.2" font-size="12.3" fill="#222">Fibroblasts</text>
<ellipse cx="558.7" cy="614" rx="4.8" ry="4.2" fill="#2D86C5"/>
<text x="571.6" y="618.4" font-size="12.3" fill="#222">Malignant</text>
<ellipse cx="558.7" cy="629.2" rx="4.8" ry="4.2" fill="#6A45A0"/>
<text x="571.6" y="633.6" font-size="12.3" fill="#222">Mast</text>
<ellipse cx="558.7" cy="644.5" rx="4.8" ry="4.2" fill="#E05A55"/>
<text x="571.6" y="648.9" font-size="12.3" fill="#222">Melanocytes</text>
<ellipse cx="558.7" cy="659.7" rx="4.8" ry="4.2" fill="#A3A696"/>
<text x="571.6" y="664.1" font-size="12.3" fill="#222">Mono/Macro</text>
<ellipse cx="558.7" cy="674.9" rx="4.8" ry="4.2" fill="#B3B530"/>
<text x="571.6" y="679.3" font-size="12.3" fill="#222">Myofibroblasts</text>
<ellipse cx="558.7" cy="690.2" rx="4.8" ry="4.2" fill="#AE7BAE"/>
<text x="571.6" y="694.6" font-size="12.3" fill="#222">NK</text>
<ellipse cx="558.7" cy="705.4" rx="4.8" ry="4.2" fill="#E6BC35"/>
<text x="571.6" y="709.8" font-size="12.3" fill="#222">Plasma</text>
<ellipse cx="558.7" cy="720.6" rx="4.8" ry="4.2" fill="#22B5C8"/>
<text x="571.6" y="725" font-size="12.3" fill="#222">Tprolif</text>
<ellipse cx="558.7" cy="735.9" rx="4.8" ry="4.2" fill="#EE93A0"/>
<text x="571.6" y="740.2" font-size="12.3" fill="#222">Treg</text>
<g id="violin1">
<line x1="898.9" y1="666.9" x2="1757" y2="666.9" stroke="#E4E4E4" stroke-width="1.6"/>
<text x="889.9" y="669.5" text-anchor="end" font-family="DejaVu Sans, sans-serif" font-size="7.2" fill="#333" transform="translate(889.9 666.9) scale(1.2 0.98) translate(-889.9 -666.9)">0.0</text>
<line x1="898.9" y1="611.3" x2="1757" y2="611.3" stroke="#E4E4E4" stroke-width="1.6"/>
<text x="889.9" y="613.9" text-anchor="end" font-family="DejaVu Sans, sans-serif" font-size="7.2" fill="#333" transform="translate(889.9 611.3) scale(1.2 0.98) translate(-889.9 -611.3)">0.5</text>
<line x1="898.9" y1="555.7" x2="1757" y2="555.7" stroke="#E4E4E4" stroke-width="1.6"/>
<text x="889.9" y="558.3" text-anchor="end" font-family="DejaVu Sans, sans-serif" font-size="7.2" fill="#333" transform="translate(889.9 555.7) scale(1.2 0.98) translate(-889.9 -555.7)">1.0</text>
<line x1="898.9" y1="500.1" x2="1757" y2="500.1" stroke="#E4E4E4" stroke-width="1.6"/>
<text x="889.9" y="502.7" text-anchor="end" font-family="DejaVu Sans, sans-serif" font-size="7.2" fill="#333" transform="translate(889.9 500.1) scale(1.2 0.98) translate(-889.9 -500.1)">1.5</text>
<line x1="898.9" y1="444.5" x2="1757" y2="444.5" stroke="#E4E4E4" stroke-width="1.6"/>
<text x="889.9" y="447.1" text-anchor="end" font-family="DejaVu Sans, sans-serif" font-size="7.2" fill="#333" transform="translate(889.9 444.5) scale(1.2 0.98) translate(-889.9 -444.5)">2.0</text>
<line x1="898.4" y1="423.4" x2="898.4" y2="678.2" stroke="#D3D3D3" stroke-width="1.3"/>
<line x1="898.4" y1="678.2" x2="1757" y2="678.2" stroke="#D9D9D9" stroke-width="1.3"/>
<polygon points="904.1,666.9 905.8,666.6 907.5,666.3 909.2,666 910.8,665.6 912.4,665.3 913.9,665 915.4,664.7 916.8,664.4 918.2,664.1 919.5,663.8 920.8,663.5 922,663.1 923.1,662.8 924.1,662.5 924.9,662.2 924.9,661.9 926.2,661.9 926.2,662.2 927,662.5 928,662.8 929.1,663.1 930.3,663.5 931.5,663.8 932.9,664.1 934.2,664.4 935.7,664.7 937.2,665 938.7,665.3 940.3,665.6 941.9,666 943.6,666.3 945.2,666.6 947,666.9" fill="#C98241" stroke="#1E1E1E" stroke-width="0.9" stroke-linejoin="round"/>
<line x1="925.5" y1="499.8" x2="925.5" y2="662.4" stroke="#3A3A3A" stroke-width="1.5"/>
<circle cx="925.5" cy="666.9" r="1.1" fill="#555"/>
<text x="924.3" y="734.4" text-anchor="middle" dominant-baseline="central" font-size="22.4" fill="#000" stroke="#000" stroke-width="0.25" transform="rotate(-45 924.3 734.4)">B</text>
<polygon points="958.4,666.9 960.1,666.7 961.8,666.5 963.4,666.4 965.1,666.2 966.6,666 968.2,665.9 969.7,665.7 971.1,665.5 972.5,665.3 973.8,665.1 975.1,665 976.3,664.8 977.4,664.6 978.4,664.4 979.2,664.3 979.2,664.1 980.4,664.1 980.4,664.3 981.2,664.4 982.2,664.6 983.3,664.8 984.5,665 985.8,665.1 987.1,665.3 988.5,665.5 990,665.7 991.4,665.9 993,666 994.6,666.2 996.2,666.4 997.8,666.5 999.5,666.7 1001.2,666.9" fill="#60689E" stroke="#1E1E1E" stroke-width="0.9" stroke-linejoin="round"/>
<line x1="979.8" y1="471.2" x2="979.8" y2="664.6" stroke="#3A3A3A" stroke-width="1.5"/>
<circle cx="979.8" cy="666.9" r="1.1" fill="#555"/>
<text x="984.4" y="728.3" text-anchor="middle" dominant-baseline="central" font-size="22.4" fill="#000" stroke="#000" stroke-width="0.25" transform="rotate(-45 984.4 728.3)">CD4 T conv</text>
<polygon points="1012.6,666.9 1014.4,666.7 1016.1,666.5 1017.7,666.3 1019.3,666.1 1020.9,665.9 1022.4,665.7 1023.9,665.5 1025.4,665.3 1026.8,665.1 1028.1,664.9 1029.3,664.7 1030.5,664.5 1031.6,664.3 1032.6,664.1 1033.4,663.9 1033.4,663.7 1034.7,663.7 1034.7,663.9 1035.5,664.1 1036.5,664.3 1037.6,664.5 1038.8,664.7 1040.1,664.9 1041.4,665.1 1042.8,665.3 1044.2,665.5 1045.7,665.7 1047.2,665.9 1048.8,666.1 1050.4,666.3 1052.1,666.5 1053.8,666.7 1055.5,666.9" fill="#5AAB97" stroke="#1E1E1E" stroke-width="0.9" stroke-linejoin="round"/>
<line x1="1034.1" y1="434.9" x2="1034.1" y2="664.2" stroke="#3A3A3A" stroke-width="1.5"/>
<circle cx="1034.1" cy="666.9" r="1.1" fill="#555"/>
<text x="1033.4" y="731.4" text-anchor="middle" dominant-baseline="central" font-size="22.4" fill="#000" stroke="#000" stroke-width="0.25" transform="rotate(-45 1033.4 731.4)">CD8 T</text>
<polygon points="1066.9,666.9 1068.6,666.7 1070.3,666.4 1072,666.2 1073.6,666 1075.2,665.8 1076.7,665.5 1078.2,665.3 1079.6,665.1 1081,664.9 1082.4,664.6 1083.6,664.4 1084.8,664.2 1085.9,664 1086.9,663.8 1087.7,663.5 1087.7,663.3 1089,663.3 1089,663.5 1089.8,663.8 1090.8,664 1091.9,664.2 1093.1,664.4 1094.3,664.6 1095.7,664.9 1097.1,665.1 1098.5,665.3 1100,665.5 1101.5,665.8 1103.1,666 1104.7,666.2 1106.4,666.4 1108.1,666.7 1109.8,666.9" fill="#86B459" stroke="#1E1E1E" stroke-width="0.9" stroke-linejoin="round"/>
<line x1="1088.3" y1="465" x2="1088.3" y2="663.8" stroke="#3A3A3A" stroke-width="1.5"/>
<circle cx="1088.3" cy="666.9" r="1.1" fill="#555"/>
<text x="1089.2" y="732.2" text-anchor="middle" dominant-baseline="central" font-size="22.4" fill="#000" stroke="#000" stroke-width="0.25" transform="rotate(-45 1089.2 732.2)">CD8 Tex</text>
<polygon points="1121.2,666.9 1122.9,666.6 1124.6,666.3 1126.2,666.1 1127.9,665.8 1129.4,665.5 1131,665.2 1132.5,664.9 1133.9,664.6 1135.3,664.4 1136.6,664.1 1137.9,663.8 1139.1,663.5 1140.2,663.2 1141.2,663 1142,662.7 1142,662.4 1143.3,662.4 1143.3,662.7 1144.1,663 1145,663.2 1146.2,663.5 1147.3,663.8 1148.6,664.1 1149.9,664.4 1151.3,664.6 1152.8,664.9 1154.3,665.2 1155.8,665.5 1157.4,665.8 1159,666.1 1160.6,666.3 1162.3,666.6 1164.1,666.9" fill="#BB69AB" stroke="#1E1E1E" stroke-width="0.9" stroke-linejoin="round"/>
<line x1="1142.6" y1="536.1" x2="1142.6" y2="662.9" stroke="#3A3A3A" stroke-width="1.5"/>
<circle cx="1142.6" cy="666.9" r="1.1" fill="#555"/>
<text x="1137.3" y="733.5" text-anchor="middle" dominant-baseline="central" font-size="22.4" fill="#000" stroke="#000" stroke-width="0.25" transform="rotate(-45 1137.3 733.5)">DC</text>
<polygon points="1175.4,666.9 1177.2,666.6 1178.9,666.4 1180.5,666.1 1182.1,665.9 1183.7,665.6 1185.2,665.4 1186.7,665.1 1188.2,664.9 1189.6,664.6 1190.9,664.4 1192.2,664.1 1193.3,663.9 1194.5,663.6 1195.4,663.4 1196.2,663.1 1196.2,662.9 1197.5,662.9 1197.5,663.1 1198.3,663.4 1199.3,663.6 1200.4,663.9 1201.6,664.1 1202.9,664.4 1204.2,664.6 1205.6,664.9 1207,665.1 1208.5,665.4 1210.1,665.6 1211.6,665.9 1213.3,666.1 1214.9,666.4 1216.6,666.6 1218.3,666.9" fill="#266456" stroke="#1E1E1E" stroke-width="0.9" stroke-linejoin="round"/>
<line x1="1196.9" y1="567.6" x2="1196.9" y2="663.4" stroke="#3A3A3A" stroke-width="1.5"/>
<circle cx="1196.9" cy="666.9" r="1.1" fill="#555"/>
<text x="1187.7" y="728.6" text-anchor="middle" dominant-baseline="central" font-size="22.4" fill="#000" stroke="#000" stroke-width="0.25" transform="rotate(-45 1187.7 728.6)">Endothelial</text>
<polygon points="1229.7,666.9 1231.4,666.6 1233.1,666.3 1234.8,666.1 1236.4,665.8 1238,665.5 1239.5,665.2 1241,664.9 1242.4,664.6 1243.8,664.4 1245.2,664.1 1246.4,663.8 1247.6,663.5 1248.7,663.2 1249.7,663 1250.5,662.7 1250.5,662.4 1251.8,662.4 1251.8,662.7 1252.6,663 1253.6,663.2 1254.7,663.5 1255.9,663.8 1257.1,664.1 1258.5,664.4 1259.9,664.6 1261.3,664.9 1262.8,665.2 1264.3,665.5 1265.9,665.8 1267.5,666.1 1269.2,666.3 1270.9,666.6 1272.6,666.9" fill="#C29940" stroke="#1E1E1E" stroke-width="0.9" stroke-linejoin="round"/>
<line x1="1251.2" y1="516.4" x2="1251.2" y2="662.9" stroke="#3A3A3A" stroke-width="1.5"/>
<circle cx="1251.2" cy="666.9" r="1.1" fill="#555"/>
<text x="1244" y="730.5" text-anchor="middle" dominant-baseline="central" font-size="22.4" fill="#000" stroke="#000" stroke-width="0.25" transform="rotate(-45 1244 730.5)">Fibroblasts</text>
<polygon points="1284,666.9 1285.7,666.6 1287.4,666.3 1289.1,666 1290.7,665.7 1292.3,665.4 1293.8,665.1 1295.3,664.8 1296.7,664.5 1298.1,664.2 1299.4,663.9 1300.7,663.6 1301.9,663.3 1303,663 1304,662.7 1304.8,662.4 1304.8,662.1 1306.1,662.1 1306.1,662.4 1306.9,662.7 1307.9,663 1309,663.3 1310.2,663.6 1311.4,663.9 1312.7,664.2 1314.1,664.5 1315.6,664.8 1317.1,665.1 1318.6,665.4 1320.2,665.7 1321.8,666 1323.4,666.3 1325.1,666.6 1326.9,666.9" fill="#4083B2" stroke="#1E1E1E" stroke-width="0.9" stroke-linejoin="round"/>
<line x1="1305.4" y1="488" x2="1305.4" y2="662.6" stroke="#3A3A3A" stroke-width="1.5"/>
<circle cx="1305.4" cy="666.9" r="1.1" fill="#555"/>
<text x="1297.3" y="730" text-anchor="middle" dominant-baseline="central" font-size="22.4" fill="#000" stroke="#000" stroke-width="0.25" transform="rotate(-45 1297.3 730)">Malignant</text>
<line x1="1338.3" y1="666.9" x2="1381.1" y2="666.9" stroke="#8F8F8F" stroke-width="1.8"/>
<text x="1349.4" y="732.9" text-anchor="middle" dominant-baseline="central" font-size="22.4" fill="#000" stroke="#000" stroke-width="0.25" transform="rotate(-45 1349.4 732.9)">Mast</text>
<line x1="1392.5" y1="666.9" x2="1435.4" y2="666.9" stroke="#8F8F8F" stroke-width="1.8"/>
<text x="1398.1" y="729.6" text-anchor="middle" dominant-baseline="central" font-size="22.4" fill="#000" stroke="#000" stroke-width="0.25" transform="rotate(-45 1398.1 729.6)">Melanocytes</text>
<polygon points="1446.8,666.9 1448.5,666.6 1450.2,666.4 1451.9,666.1 1453.5,665.9 1455.1,665.6 1456.6,665.3 1458.1,665.1 1459.5,664.8 1460.9,664.5 1462.2,664.3 1463.5,664 1464.7,663.8 1465.8,663.5 1466.8,663.2 1467.6,663 1467.6,662.7 1468.9,662.7 1468.9,663 1469.7,663.2 1470.7,663.5 1471.8,663.8 1473,664 1474.2,664.3 1475.6,664.5 1476.9,664.8 1478.4,665.1 1479.9,665.3 1481.4,665.6 1483,665.9 1484.6,666.1 1486.3,666.4 1487.9,666.6 1489.7,666.9" fill="#A2A498" stroke="#1E1E1E" stroke-width="0.9" stroke-linejoin="round"/>
<line x1="1468.2" y1="479.6" x2="1468.2" y2="663.2" stroke="#3A3A3A" stroke-width="1.5"/>
<circle cx="1468.2" cy="666.9" r="1.1" fill="#555"/>
<text x="1449.4" y="729.4" text-anchor="middle" dominant-baseline="central" font-size="22.4" fill="#000" stroke="#000" stroke-width="0.25" transform="rotate(-45 1449.4 729.4)">Mono/Macro</text>
<polygon points="1501.1,666.9 1502.8,666.7 1504.5,666.5 1506.1,666.4 1507.8,666.2 1509.3,666 1510.9,665.9 1512.4,665.7 1513.8,665.5 1515.2,665.3 1516.5,665.1 1517.8,665 1519,664.8 1520.1,664.6 1521.1,664.4 1521.9,664.3 1521.9,664.1 1523.1,664.1 1523.1,664.3 1523.9,664.4 1524.9,664.6 1526,664.8 1527.2,665 1528.5,665.1 1529.8,665.3 1531.2,665.5 1532.7,665.7 1534.1,665.9 1535.7,666 1537.3,666.2 1538.9,666.4 1540.5,666.5 1542.2,666.7 1543.9,666.9" fill="#A3A441" stroke="#1E1E1E" stroke-width="0.9" stroke-linejoin="round"/>
<line x1="1522.5" y1="589.2" x2="1522.5" y2="664.6" stroke="#3A3A3A" stroke-width="1.5"/>
<circle cx="1522.5" cy="666.9" r="1.1" fill="#555"/>
<text x="1511.4" y="728.3" text-anchor="middle" dominant-baseline="central" font-size="22.4" fill="#000" stroke="#000" stroke-width="0.25" transform="rotate(-45 1511.4 728.3)">Myofibroblasts</text>
<polygon points="1555.3,666.9 1557.1,666.6 1558.8,666.2 1560.4,665.9 1562,665.5 1563.6,665.2 1565.1,664.8 1566.6,664.5 1568.1,664.1 1569.5,663.8 1570.8,663.5 1572,663.1 1573.2,662.8 1574.3,662.4 1575.3,662.1 1576.1,661.7 1576.1,661.4 1577.4,661.4 1577.4,661.7 1578.2,662.1 1579.2,662.4 1580.3,662.8 1581.5,663.1 1582.8,663.5 1584.1,663.8 1585.5,664.1 1586.9,664.5 1588.4,664.8 1589.9,665.2 1591.5,665.5 1593.1,665.9 1594.8,666.2 1596.5,666.6 1598.2,666.9" fill="#A881A8" stroke="#1E1E1E" stroke-width="0.9" stroke-linejoin="round"/>
<line x1="1576.8" y1="507.6" x2="1576.8" y2="661.9" stroke="#3A3A3A" stroke-width="1.5"/>
<circle cx="1576.8" cy="666.9" r="1.1" fill="#555"/>
<text x="1567.1" y="732.5" text-anchor="middle" dominant-baseline="central" font-size="22.4" fill="#000" stroke="#000" stroke-width="0.25" transform="rotate(-45 1567.1 732.5)">NK</text>
<polygon points="1609.6,666.9 1611.3,666.6 1613,666.2 1614.7,665.9 1616.3,665.5 1617.9,665.2 1619.4,664.9 1620.9,664.5 1622.3,664.2 1623.7,663.9 1625.1,663.5 1626.3,663.2 1627.5,662.9 1628.6,662.5 1629.6,662.2 1630.4,661.8 1630.4,661.5 1631.7,661.5 1631.7,661.8 1632.5,662.2 1633.5,662.5 1634.6,662.9 1635.8,663.2 1637,663.5 1638.4,663.9 1639.8,664.2 1641.2,664.5 1642.7,664.9 1644.2,665.2 1645.8,665.5 1647.4,665.9 1649.1,666.2 1650.8,666.6 1652.5,666.9" fill="#D0B04B" stroke="#1E1E1E" stroke-width="0.9" stroke-linejoin="round"/>
<line x1="1631" y1="517.3" x2="1631" y2="662" stroke="#3A3A3A" stroke-width="1.5"/>
<circle cx="1631" cy="666.9" r="1.1" fill="#555"/>
<text x="1621.8" y="732" text-anchor="middle" dominant-baseline="central" font-size="22.4" fill="#000" stroke="#000" stroke-width="0.25" transform="rotate(-45 1621.8 732)">Plasma</text>
<polygon points="1663.9,666.9 1665.6,666.6 1667.3,666.4 1668.9,666.1 1670.6,665.9 1672.1,665.6 1673.7,665.4 1675.2,665.1 1676.6,664.9 1678,664.6 1679.3,664.4 1680.6,664.1 1681.8,663.9 1682.9,663.6 1683.9,663.4 1684.7,663.1 1684.7,662.9 1686,662.9 1686,663.1 1686.8,663.4 1687.7,663.6 1688.9,663.9 1690,664.1 1691.3,664.4 1692.6,664.6 1694,664.9 1695.5,665.1 1697,665.4 1698.5,665.6 1700.1,665.9 1701.7,666.1 1703.3,666.4 1705,666.6 1706.8,666.9" fill="#37A5B3" stroke="#1E1E1E" stroke-width="0.9" stroke-linejoin="round"/>
<line x1="1685.3" y1="524.1" x2="1685.3" y2="663.4" stroke="#3A3A3A" stroke-width="1.5"/>
<circle cx="1685.3" cy="666.9" r="1.1" fill="#555"/>
<text x="1673.2" y="729.3" text-anchor="middle" dominant-baseline="central" font-size="22.4" fill="#000" stroke="#000" stroke-width="0.25" transform="rotate(-45 1673.2 729.3)">Tprolif</text>
<polygon points="1718.1,666.9 1719.9,666.8 1721.6,666.6 1723.2,666.4 1724.8,666.3 1726.4,666.1 1727.9,666 1729.4,665.9 1730.9,665.7 1732.3,665.5 1733.6,665.4 1734.9,665.2 1736,665.1 1737.2,664.9 1738.1,664.8 1738.9,664.6 1738.9,664.5 1740.2,664.5 1740.2,664.6 1741,664.8 1742,664.9 1743.1,665.1 1744.3,665.2 1745.6,665.4 1746.9,665.5 1748.3,665.7 1749.7,665.9 1751.2,666 1752.8,666.1 1754.3,666.3 1756,666.4 1757.6,666.6 1759.3,666.8 1761,666.9" fill="#E39EA8" stroke="#1E1E1E" stroke-width="0.9" stroke-linejoin="round"/>
<line x1="1739.6" y1="586.5" x2="1739.6" y2="665" stroke="#3A3A3A" stroke-width="1.5"/>
<circle cx="1739.6" cy="666.9" r="1.1" fill="#555"/>
<text x="1727.4" y="732.5" text-anchor="middle" dominant-baseline="central" font-size="22.4" fill="#000" stroke="#000" stroke-width="0.25" transform="rotate(-45 1727.4 732.5)">Treg</text>
<text x="865.0" y="558.5" text-anchor="middle" dominant-baseline="central" font-size="22.4" transform="translate(865.0 558.5) rotate(-90) scale(1 1.05) translate(-865.0 -558.5)">PAN3-AS1</text>
</g>
<g id="umap2">
<line x1="146.8" y1="846.4" x2="146.8" y2="1167.3" stroke="#D9D9D9" stroke-width="2"/>
<line x1="205.9" y1="846.4" x2="205.9" y2="1167.3" stroke="#D9D9D9" stroke-width="2"/>
<line x1="265" y1="846.4" x2="265" y2="1167.3" stroke="#D9D9D9" stroke-width="2"/>
<line x1="324.1" y1="846.4" x2="324.1" y2="1167.3" stroke="#D9D9D9" stroke-width="2"/>
<line x1="383.2" y1="846.4" x2="383.2" y2="1167.3" stroke="#D9D9D9" stroke-width="2"/>
<line x1="442.3" y1="846.4" x2="442.3" y2="1167.3" stroke="#D9D9D9" stroke-width="2"/>
<line x1="501.4" y1="846.4" x2="501.4" y2="1167.3" stroke="#D9D9D9" stroke-width="2"/>
<line x1="131.4" y1="859.8" x2="509.8" y2="859.8" stroke="#DCDCDC" stroke-width="2"/>
<line x1="131.4" y1="916.6" x2="509.8" y2="916.6" stroke="#DCDCDC" stroke-width="2"/>
<line x1="131.4" y1="973.6" x2="509.8" y2="973.6" stroke="#DCDCDC" stroke-width="2"/>
<line x1="131.4" y1="1030.5" x2="509.8" y2="1030.5" stroke="#DCDCDC" stroke-width="2"/>
<line x1="131.4" y1="1087.7" x2="509.8" y2="1087.7" stroke="#DCDCDC" stroke-width="2"/>
<line x1="131.4" y1="1144.8" x2="509.8" y2="1144.8" stroke="#DCDCDC" stroke-width="2"/>
<polygon points="156.4,955.9 162,951.4 167.7,949.1 173.4,949.5 174.5,953.2 168.9,955.9 164.3,959.3 160.9,967.3 159.8,976.4 163.2,985.5 163.2,994.5 160.9,996.8 156.4,992.3 149.5,988.9 147.3,984.3 149.5,976.4 154.1,969.5 156.4,962.7" fill="#8061AE" stroke="#8061AE" stroke-width="1.2" stroke-linejoin="round" />
<polygon points="333.6,882.4 340.1,883.5 346.6,885.6 352,888.9 355.2,893.2 358.5,899.7 359.5,906.1 354.1,900.7 344.4,901.8 336.9,906.1 331.5,904 327.2,898.6 325,893.2 329.3,887.8" fill="#8C94C4" stroke="#8C94C4" stroke-width="1.2" stroke-linejoin="round" />
<polygon points="336.9,906.1 344.4,901.8 354.1,900.7 359.5,906.1 362.8,914.8 367.1,921.3 370.3,927.7 369.3,934.2 366,940.7 362.8,947.2 360.6,953.6 358.5,959 350.9,961.2 344.4,960.1 338,955.8 334.7,950.4 338,942.8 338,935.3 335.8,928.8 333.6,921.3 335.8,914.8" fill="#646EAF" stroke="#646EAF" stroke-width="1.2" stroke-linejoin="round" />
<polygon points="252.7,898.6 255.9,891 262.4,885.6 268.9,883.5 275.3,884.5 281.8,886.7 287.2,891 290.5,896.4 288.3,901.8 281.8,906.1 275.3,910.5 271,913.7 267.8,916.9 265.6,923.4 263.5,929.9 259.1,929.9 255.9,925.6 251.6,921.3 246.2,921.3 240.8,924.5 236.5,924.5 239.7,920.2 246.2,916.9 251.6,912.6 253.2,906.1" fill="#4292CB" stroke="#4292CB" stroke-width="1.2" stroke-linejoin="round" />
<polygon points="290.5,882.4 294.8,877 301.3,874.8 307.7,875.9 316.4,875.9 319.6,873.8 322.8,878.1 327.2,880.2 333.6,881.3 336.9,884.5 335.8,891 330.4,895.3 323.9,897.5 316.4,900.7 309.9,904 303.4,902.9 296.9,900.7 290.5,904 285.1,910.5 280.7,914.8 276.4,914.8 276.4,910.5 281.8,906.1 288.3,901.8 290.5,896.4 290.5,891" fill="#5FBFA8" stroke="#5FBFA8" stroke-width="1.2" stroke-linejoin="round" />
<polygon points="318.5,864 320.1,860.8 322.8,860.8 323.9,865.1 324.5,870.5 325,875.9 322.8,877 320.1,875.9 319.1,870.5" fill="#4C98CE" stroke="#4C98CE" stroke-width="1.2" stroke-linejoin="round" />
<polygon points="364.9,919.1 370.3,912.6 375.7,906.1 382.2,902.9 388.7,904 396.3,908.3 402.7,914.8 403.8,921.3 399.5,924.5 389.8,924.5 381.1,923.4 372.5,922.3" fill="#B1B3A6" stroke="#B1B3A6" stroke-width="1.2" stroke-linejoin="round" />
<polygon points="255.4,929.9 259.1,929.9 262.4,932 261.3,936.4 259.1,942.8 261.3,947.2 262.4,952.6 261.3,959 261.3,964.4 260.2,967.7 258.1,964.4 257,958 253.8,956.9 249.4,956.9 251.6,952.6 254.8,950.4 255.9,945 254.8,938.5" fill="#E98885" stroke="#E98885" stroke-width="1.2" stroke-linejoin="round" />
<polygon points="261.3,987.1 263.5,982.8 265.6,983.9 267.8,986.6 264.5,987.6" fill="#E05A55" stroke="#E05A55" stroke-width="1.2" stroke-linejoin="round" />
<polygon points="261.8,967.7 264,967.7 264.3,973.1 262.4,973.6" fill="#E0812A" stroke="#E0812A" stroke-width="1.2" stroke-linejoin="round" />
<polygon points="264.5,933.1 268.9,933.1 278.6,937.4 289.4,942.8 299.1,947.2 305.6,950.4 304.5,953.6 296.9,950.4 287.2,946.1 277.5,941.8 267.8,936.4" fill="#B6DB92" stroke="#B6DB92" stroke-width="1.2" stroke-linejoin="round" />
<polygon points="331.5,952.6 335.8,945 339,943.9 338,950.4 333.6,955.8" fill="#AAD580" stroke="#AAD580" stroke-width="1.2" stroke-linejoin="round" />
<polygon points="301.3,956.9 305.6,953.6 312,953.6 320.7,955.8 327.2,959 328.2,964.4 325,969.8 322.8,975.2 320.7,979.5 318.5,984.9 316.4,990.3 315.3,1000 305.6,1000 303.4,994.7 300.2,988.2 296.9,981.7 296.9,975.2 299.1,968.8 301.3,962.3" fill="#92C95C" stroke="#92C95C" stroke-width="1.2" stroke-linejoin="round" />
<polygon points="305.6,1000 315.3,1000 314.2,1003.3 309.9,1005.5 306.1,1003.3" fill="#9ECF6E" stroke="#9ECF6E" stroke-width="1.2" stroke-linejoin="round" />
<polygon points="306.4,996.8 310.9,994.5 315.5,999.1 317.7,1008.2 324.5,1012.7 328,1019.5 325.7,1024.1 320,1026.4 313.2,1026.8 308.6,1024.1 306.4,1017.3 305.9,1008.2" fill="#E0812A" stroke="#E0812A" stroke-width="1.2" stroke-linejoin="round" />
<polygon points="310.9,990 314.3,990 315.5,999.1 311.4,996.8" fill="#E0812A" stroke="#E0812A" stroke-width="1.2" stroke-linejoin="round" />
<polygon points="343.9,1040 347.3,1035.5 354.1,1030.9 356.4,1021.8 363.2,1017.3 370,1015 381.4,1012.7 390.5,1017.3 397.3,1024.1 401.8,1033.2 408.6,1034.3 415.5,1040 417.7,1049.1 415.5,1058.2 408.6,1065 401.8,1069.5 395,1070.7 388.2,1067.3 381.4,1065 370,1062.7 360.9,1058.2 354.1,1053.6 347.3,1049.1" fill="#E49044" stroke="#E49044" stroke-width="1.2" stroke-linejoin="round" />
<polygon points="260.9,970.7 263.6,970.7 264.1,974.1 261.4,974.1" fill="#D7A12B" stroke="#D7A12B" stroke-width="1.2" stroke-linejoin="round" />
<polygon points="247.3,1101.4 251.8,1094.5 258.6,1090 263.2,1084.3 265.5,1087.7 267.7,1094.5 271.1,1101.4 274.5,1108.2 283.6,1112.7 292.7,1115 296.1,1118.4 292.7,1123 283.6,1123 274.5,1121.8 267.7,1125.2 262,1128.6 258.6,1126.4 260.9,1119.5 256.4,1112.7 251.8,1108.2 248.4,1104.8" fill="#458879" stroke="#458879" stroke-width="1.2" stroke-linejoin="round" />
<polygon points="296.8,1149.1 299.1,1148.6 301.4,1153.2 299.5,1154.1" fill="#1C6E5C" stroke="#1C6E5C" stroke-width="1.2" stroke-linejoin="round" />
<polygon points="234.8,1049.1 237,1048.6 243.2,1056.4 240.9,1057.7" fill="#D7A12B" stroke="#D7A12B" stroke-width="1.2" stroke-linejoin="round" />
<polygon points="489.3,960 492.7,957 494.1,958.2 490.5,960.9" fill="#C95BB3" stroke="#C95BB3" stroke-width="1.2" stroke-linejoin="round" />
<text x="296.8" y="888.9" font-size="15.6" fill="#000" stroke="#000" stroke-width="0.3">CD8T</text>
<text x="270" y="896.8" font-size="15.6" fill="#000" stroke="#000" stroke-width="0.3">NK</text>
<text x="388.2" y="913.9" font-size="15.6" fill="#000" stroke="#000" stroke-width="0.3">Treg</text>
<text x="346.8" y="932" font-size="15.6" fill="#000" stroke="#000" stroke-width="0.3">CD4Tconv</text>
<text x="261.4" y="953.6" font-size="15.6" fill="#000" stroke="#000" stroke-width="0.3">Tprolif</text>
<text x="311.6" y="961.6" font-size="15.6" fill="#000" stroke="#000" stroke-width="0.3">CD8Tex</text>
<text x="161.4" y="970.7" font-size="15.6" fill="#000" stroke="#000" stroke-width="0.3">Plasma</text>
<text x="354.1" y="987.7" font-size="15.6" fill="#000" stroke="#000" stroke-width="0.3">Mast</text>
<text x="370" y="1033.2" font-size="15.6" fill="#000" stroke="#000" stroke-width="0.3">B</text>
<text x="242.7" y="1048" font-size="15.6" fill="#000" stroke="#000" stroke-width="0.3">Myofibroblasts</text>
<text x="272.7" y="1106.4" font-size="15.6" fill="#000" stroke="#000" stroke-width="0.3">Mono/Macro</text>
</g>
<text x="546.2" y="926.6" font-size="14.6" fill="#222">Celltype (major-lineage)</text>
<ellipse cx="558.7" cy="939.1" rx="4.8" ry="4.2" fill="#E0812A"/>
<text x="571.6" y="943.5" font-size="12.3" fill="#222">B</text>
<ellipse cx="558.7" cy="954.3" rx="4.8" ry="4.2" fill="#5661A8"/>
<text x="571.6" y="958.7" font-size="12.3" fill="#222">CD4Tconv</text>
<ellipse cx="558.7" cy="969.6" rx="4.8" ry="4.2" fill="#4DB89E"/>
<text x="571.6" y="974" font-size="12.3" fill="#222">CD8T</text>
<ellipse cx="558.7" cy="984.8" rx="4.8" ry="4.2" fill="#86C34A"/>
<text x="571.6" y="989.2" font-size="12.3" fill="#222">CD8Tex</text>
<ellipse cx="558.7" cy="1000.1" rx="4.8" ry="4.2" fill="#C95BB3"/>
<text x="571.6" y="1004.5" font-size="12.3" fill="#222">Mast</text>
<ellipse cx="558.7" cy="1015.3" rx="4.8" ry="4.2" fill="#1C6E5C"/>
<text x="571.6" y="1019.7" font-size="12.3" fill="#222">Mono/Macro</text>
<ellipse cx="558.7" cy="1030.5" rx="4.8" ry="4.2" fill="#D7A12B"/>
<text x="571.6" y="1034.9" font-size="12.3" fill="#222">Myofibroblasts</text>
<ellipse cx="558.7" cy="1045.8" rx="4.8" ry="4.2" fill="#2D86C5"/>
<text x="571.6" y="1050.2" font-size="12.3" fill="#222">NK</text>
<ellipse cx="558.7" cy="1061" rx="4.8" ry="4.2" fill="#6A45A0"/>
<text x="571.6" y="1065.4" font-size="12.3" fill="#222">Plasma</text>
<ellipse cx="558.7" cy="1076.3" rx="4.8" ry="4.2" fill="#E05A55"/>
<text x="571.6" y="1080.7" font-size="12.3" fill="#222">Tprolif</text>
<ellipse cx="558.7" cy="1091.5" rx="4.8" ry="4.2" fill="#A3A696"/>
<text x="571.6" y="1095.9" font-size="12.3" fill="#222">Treg</text>
<g id="violin2">
<line x1="908.3" y1="1068.2" x2="1693" y2="1068.2" stroke="#E4E4E4" stroke-width="1.6"/>
<text x="899.3" y="1070.8" text-anchor="end" font-family="DejaVu Sans, sans-serif" font-size="7.2" fill="#333" transform="translate(899.3 1068.2) scale(1.2 0.98) translate(-899.3 -1068.2)">0.0</text>
<line x1="908.3" y1="1019.6" x2="1693" y2="1019.6" stroke="#E4E4E4" stroke-width="1.6"/>
<text x="899.3" y="1022.2" text-anchor="end" font-family="DejaVu Sans, sans-serif" font-size="7.2" fill="#333" transform="translate(899.3 1019.6) scale(1.2 0.98) translate(-899.3 -1019.6)">0.5</text>
<line x1="908.3" y1="971" x2="1693" y2="971" stroke="#E4E4E4" stroke-width="1.6"/>
<text x="899.3" y="973.6" text-anchor="end" font-family="DejaVu Sans, sans-serif" font-size="7.2" fill="#333" transform="translate(899.3 971) scale(1.2 0.98) translate(-899.3 -971)">1.0</text>
<line x1="908.3" y1="922.5" x2="1693" y2="922.5" stroke="#E4E4E4" stroke-width="1.6"/>
<text x="899.3" y="925.1" text-anchor="end" font-family="DejaVu Sans, sans-serif" font-size="7.2" fill="#333" transform="translate(899.3 922.5) scale(1.2 0.98) translate(-899.3 -922.5)">1.5</text>
<line x1="908.3" y1="873.9" x2="1693" y2="873.9" stroke="#E4E4E4" stroke-width="1.6"/>
<text x="899.3" y="876.5" text-anchor="end" font-family="DejaVu Sans, sans-serif" font-size="7.2" fill="#333" transform="translate(899.3 873.9) scale(1.2 0.98) translate(-899.3 -873.9)">2.0</text>
<line x1="908.3" y1="825.3" x2="1693" y2="825.3" stroke="#E4E4E4" stroke-width="1.6"/>
<text x="899.3" y="827.9" text-anchor="end" font-family="DejaVu Sans, sans-serif" font-size="7.2" fill="#333" transform="translate(899.3 825.3) scale(1.2 0.98) translate(-899.3 -825.3)">2.5</text>
<line x1="907.8" y1="824.3" x2="907.8" y2="1079.6" stroke="#D3D3D3" stroke-width="1.3"/>
<line x1="907.8" y1="1079.6" x2="1693" y2="1079.6" stroke="#D9D9D9" stroke-width="1.3"/>
<polygon points="915.3,1068.2 917.6,1067.8 919.8,1067.4 922,1067 924.1,1066.6 926.2,1066.2 928.2,1065.8 930.1,1065.4 932,1065 933.9,1064.5 935.6,1064.1 937.3,1063.7 938.8,1063.3 940.3,1062.9 941.6,1062.5 942.6,1062.1 942.6,1061.7 944.3,1061.7 944.3,1062.1 945.4,1062.5 946.7,1062.9 948.1,1063.3 949.7,1063.7 951.4,1064.1 953.1,1064.5 954.9,1065 956.8,1065.4 958.8,1065.8 960.8,1066.2 962.9,1066.6 965,1067 967.2,1067.4 969.4,1067.8 971.7,1068.2" fill="#C98241" stroke="#1E1E1E" stroke-width="0.9" stroke-linejoin="round"/>
<line x1="943.5" y1="835.8" x2="943.5" y2="1062.2" stroke="#3A3A3A" stroke-width="1.5"/>
<circle cx="943.5" cy="1068.2" r="1.1" fill="#555"/>
<text x="939.8" y="1125" text-anchor="middle" dominant-baseline="central" font-size="22.4" fill="#000" stroke="#000" stroke-width="0.25" transform="rotate(-45 939.8 1125)">B</text>
<polygon points="986.7,1068.2 988.9,1067.9 991.2,1067.5 993.3,1067.2 995.5,1066.8 997.5,1066.5 999.6,1066.1 1001.5,1065.8 1003.4,1065.5 1005.2,1065.1 1007,1064.8 1008.7,1064.4 1010.2,1064.1 1011.7,1063.7 1013,1063.4 1014,1063 1014,1062.7 1015.7,1062.7 1015.7,1063 1016.8,1063.4 1018.1,1063.7 1019.5,1064.1 1021.1,1064.4 1022.8,1064.8 1024.5,1065.1 1026.3,1065.5 1028.2,1065.8 1030.2,1066.1 1032.2,1066.5 1034.3,1066.8 1036.4,1067.2 1038.6,1067.5 1040.8,1067.9 1043.1,1068.2" fill="#60689E" stroke="#1E1E1E" stroke-width="0.9" stroke-linejoin="round"/>
<line x1="1014.9" y1="897.5" x2="1014.9" y2="1063.2" stroke="#3A3A3A" stroke-width="1.5"/>
<circle cx="1014.9" cy="1068.2" r="1.1" fill="#555"/>
<text x="1000.6" y="1119.5" text-anchor="middle" dominant-baseline="central" font-size="22.4" fill="#000" stroke="#000" stroke-width="0.25" transform="rotate(-45 1000.6 1119.5)">CD4 T conv</text>
<polygon points="1058.1,1068.2 1060.3,1067.6 1062.6,1067.1 1064.7,1066.5 1066.9,1066 1068.9,1065.4 1070.9,1064.8 1072.9,1064.3 1074.8,1063.7 1076.6,1063.1 1078.4,1062.6 1080,1062 1081.6,1061.5 1083.1,1060.9 1084.4,1060.3 1085.4,1059.8 1085.4,1059.2 1087.1,1059.2 1087.1,1059.8 1088.1,1060.3 1089.5,1060.9 1090.9,1061.5 1092.5,1062 1094.1,1062.6 1095.9,1063.1 1097.7,1063.7 1099.6,1064.3 1101.6,1064.8 1103.6,1065.4 1105.7,1066 1107.8,1066.5 1110,1067.1 1112.2,1067.6 1114.5,1068.2" fill="#5AAB97" stroke="#1E1E1E" stroke-width="0.9" stroke-linejoin="round"/>
<line x1="1086.3" y1="877.6" x2="1086.3" y2="1059.7" stroke="#3A3A3A" stroke-width="1.5"/>
<circle cx="1086.3" cy="1068.2" r="1.1" fill="#555"/>
<text x="1075.6" y="1121.6" text-anchor="middle" dominant-baseline="central" font-size="22.4" fill="#000" stroke="#000" stroke-width="0.25" transform="rotate(-45 1075.6 1121.6)">CD8 T</text>
<polygon points="1129.4,1068.2 1131.7,1067.5 1133.9,1066.7 1136.1,1066 1138.2,1065.2 1140.3,1064.5 1142.3,1063.7 1144.3,1063 1146.2,1062.2 1148,1061.5 1149.8,1060.7 1151.4,1060 1153,1059.2 1154.4,1058.5 1155.7,1057.7 1156.8,1057 1156.8,1056.2 1158.5,1056.2 1158.5,1057 1159.5,1057.7 1160.8,1058.5 1162.3,1059.2 1163.9,1060 1165.5,1060.7 1167.3,1061.5 1169.1,1062.2 1171,1063 1172.9,1063.7 1175,1064.5 1177,1065.2 1179.2,1066 1181.3,1066.7 1183.6,1067.5 1185.8,1068.2" fill="#86B459" stroke="#1E1E1E" stroke-width="0.9" stroke-linejoin="round"/>
<line x1="1157.6" y1="846.7" x2="1157.6" y2="1056.7" stroke="#3A3A3A" stroke-width="1.5"/>
<circle cx="1157.6" cy="1068.2" r="1.1" fill="#555"/>
<text x="1150.6" y="1122.2" text-anchor="middle" dominant-baseline="central" font-size="22.4" fill="#000" stroke="#000" stroke-width="0.25" transform="rotate(-45 1150.6 1122.2)">CD8 Tex</text>
<polygon points="1200.8,1068.2 1203.1,1067.6 1205.3,1067.1 1207.5,1066.5 1209.6,1066 1211.7,1065.4 1213.7,1064.8 1215.7,1064.3 1217.6,1063.7 1219.4,1063.1 1221.1,1062.6 1222.8,1062 1224.4,1061.5 1225.8,1060.9 1227.1,1060.3 1228.2,1059.8 1228.2,1059.2 1229.9,1059.2 1229.9,1059.8 1230.9,1060.3 1232.2,1060.9 1233.7,1061.5 1235.2,1062 1236.9,1062.6 1238.6,1063.1 1240.5,1063.7 1242.4,1064.3 1244.3,1064.8 1246.3,1065.4 1248.4,1066 1250.5,1066.5 1252.7,1067.1 1254.9,1067.6 1257.2,1068.2" fill="#BB69AB" stroke="#1E1E1E" stroke-width="0.9" stroke-linejoin="round"/>
<line x1="1229" y1="944.6" x2="1229" y2="1059.7" stroke="#3A3A3A" stroke-width="1.5"/>
<circle cx="1229" cy="1068.2" r="1.1" fill="#555"/>
<text x="1222.2" y="1122.7" text-anchor="middle" dominant-baseline="central" font-size="22.4" fill="#000" stroke="#000" stroke-width="0.25" transform="rotate(-45 1222.2 1122.7)">Mast</text>
<polygon points="1272.2,1068.2 1274.5,1067.8 1276.7,1067.5 1278.9,1067.1 1281,1066.7 1283.1,1066.3 1285.1,1066 1287.1,1065.6 1288.9,1065.2 1290.8,1064.8 1292.5,1064.5 1294.2,1064.1 1295.7,1063.7 1297.2,1063.3 1298.5,1063 1299.6,1062.6 1299.6,1062.2 1301.2,1062.2 1301.2,1062.6 1302.3,1063 1303.6,1063.3 1305.1,1063.7 1306.6,1064.1 1308.3,1064.5 1310,1064.8 1311.9,1065.2 1313.7,1065.6 1315.7,1066 1317.7,1066.3 1319.8,1066.7 1321.9,1067.1 1324.1,1067.5 1326.3,1067.8 1328.6,1068.2" fill="#266456" stroke="#1E1E1E" stroke-width="0.9" stroke-linejoin="round"/>
<line x1="1300.4" y1="953.6" x2="1300.4" y2="1062.7" stroke="#3A3A3A" stroke-width="1.5"/>
<circle cx="1300.4" cy="1068.2" r="1.1" fill="#555"/>
<text x="1289.3" y="1128" text-anchor="middle" dominant-baseline="central" font-size="22.4" fill="#000" stroke="#000" stroke-width="0.25" transform="rotate(-45 1289.3 1128)">Mono/Macro</text>
<polygon points="1343.6,1068.2 1345.6,1063.9 1350.1,1058.2 1358,1052.5 1367,1046.8 1369.8,1042 1370.4,1038.2 1370.7,1020.2 1370.8,1001.2 1370.9,983.2 1371.8,972 1371.8,972 1372.6,983.2 1372.8,1001.2 1372.9,1020.2 1373.2,1038.2 1373.8,1042 1376.6,1046.8 1385.6,1052.5 1393.5,1058.2 1398,1063.9 1400,1068.2" fill="#C29940" stroke="#1E1E1E" stroke-width="0.9" stroke-linejoin="round"/>
<line x1="1371.8" y1="972" x2="1371.8" y2="972.5" stroke="#3A3A3A" stroke-width="1.5"/>
<circle cx="1371.8" cy="1068.2" r="1.1" fill="#555"/>
<text x="1365.7" y="1128" text-anchor="middle" dominant-baseline="central" font-size="22.4" fill="#000" stroke="#000" stroke-width="0.25" transform="rotate(-45 1365.7 1128)">Myofibroblasts</text>
<polygon points="1415,1068.2 1417.2,1067.7 1419.5,1067.2 1421.6,1066.7 1423.8,1066.2 1425.8,1065.7 1427.9,1065.2 1429.8,1064.7 1431.7,1064.2 1433.5,1063.7 1435.3,1063.2 1436.9,1062.7 1438.5,1062.2 1440,1061.7 1441.3,1061.2 1442.3,1060.7 1442.3,1060.2 1444,1060.2 1444,1060.7 1445.1,1061.2 1446.4,1061.7 1447.8,1062.2 1449.4,1062.7 1451,1063.2 1452.8,1063.7 1454.6,1064.2 1456.5,1064.7 1458.5,1065.2 1460.5,1065.7 1462.6,1066.2 1464.7,1066.7 1466.9,1067.2 1469.1,1067.7 1471.4,1068.2" fill="#4083B2" stroke="#1E1E1E" stroke-width="0.9" stroke-linejoin="round"/>
<line x1="1443.2" y1="905.5" x2="1443.2" y2="1060.7" stroke="#3A3A3A" stroke-width="1.5"/>
<circle cx="1443.2" cy="1068.2" r="1.1" fill="#555"/>
<text x="1442" y="1122.8" text-anchor="middle" dominant-baseline="central" font-size="22.4" fill="#000" stroke="#000" stroke-width="0.25" transform="rotate(-45 1442 1122.8)">NK</text>
<polygon points="1486.3,1068.2 1488.6,1067.7 1490.8,1067.1 1493,1066.6 1495.1,1066.1 1497.2,1065.5 1499.2,1065 1501.2,1064.5 1503.1,1064 1504.9,1063.4 1506.7,1062.9 1508.3,1062.4 1509.9,1061.8 1511.3,1061.3 1512.7,1060.8 1513.7,1060.2 1513.7,1059.7 1515.4,1059.7 1515.4,1060.2 1516.4,1060.8 1517.7,1061.3 1519.2,1061.8 1520.8,1062.4 1522.4,1062.9 1524.2,1063.4 1526,1064 1527.9,1064.5 1529.9,1065 1531.9,1065.5 1533.9,1066.1 1536.1,1066.6 1538.2,1067.1 1540.5,1067.7 1542.7,1068.2" fill="#6C5095" stroke="#1E1E1E" stroke-width="0.9" stroke-linejoin="round"/>
<line x1="1514.5" y1="898.4" x2="1514.5" y2="1060.2" stroke="#3A3A3A" stroke-width="1.5"/>
<circle cx="1514.5" cy="1068.2" r="1.1" fill="#555"/>
<text x="1510.2" y="1122" text-anchor="middle" dominant-baseline="central" font-size="22.4" fill="#000" stroke="#000" stroke-width="0.25" transform="rotate(-45 1510.2 1122)">Plasma</text>
<polygon points="1557.7,1068.2 1560,1067.2 1562.2,1066.2 1564.4,1065.3 1566.5,1064.3 1568.6,1063.3 1570.6,1062.3 1572.6,1061.3 1574.5,1060.4 1576.3,1059.4 1578,1058.4 1579.7,1057.4 1581.3,1056.4 1582.7,1055.4 1584,1054.5 1585.1,1053.5 1585.1,1052.5 1586.8,1052.5 1586.8,1053.5 1587.8,1054.5 1589.1,1055.4 1590.6,1056.4 1592.1,1057.4 1593.8,1058.4 1595.6,1059.4 1597.4,1060.4 1599.3,1061.3 1601.2,1062.3 1603.3,1063.3 1605.3,1064.3 1607.5,1065.3 1609.6,1066.2 1611.9,1067.2 1614.1,1068.2" fill="#CF6A66" stroke="#1E1E1E" stroke-width="0.9" stroke-linejoin="round"/>
<line x1="1585.9" y1="900.3" x2="1585.9" y2="1053" stroke="#3A3A3A" stroke-width="1.5"/>
<circle cx="1585.9" cy="1068.2" r="1.1" fill="#555"/>
<text x="1582.5" y="1120" text-anchor="middle" dominant-baseline="central" font-size="22.4" fill="#000" stroke="#000" stroke-width="0.25" transform="rotate(-45 1582.5 1120)">Tprolif</text>
<polygon points="1629.1,1068.2 1631.4,1067.8 1633.6,1067.4 1635.8,1067 1637.9,1066.5 1640,1066.1 1642,1065.7 1644,1065.3 1645.9,1064.9 1647.7,1064.5 1649.4,1064.1 1651.1,1063.7 1652.7,1063.2 1654.1,1062.8 1655.4,1062.4 1656.5,1062 1656.5,1061.6 1658.2,1061.6 1658.2,1062 1659.2,1062.4 1660.5,1062.8 1662,1063.2 1663.5,1063.7 1665.2,1064.1 1666.9,1064.5 1668.8,1064.9 1670.7,1065.3 1672.6,1065.7 1674.6,1066.1 1676.7,1066.5 1678.8,1067 1681,1067.4 1683.2,1067.8 1685.5,1068.2" fill="#A2A498" stroke="#1E1E1E" stroke-width="0.9" stroke-linejoin="round"/>
<line x1="1657.3" y1="943.7" x2="1657.3" y2="1062.1" stroke="#3A3A3A" stroke-width="1.5"/>
<circle cx="1657.3" cy="1068.2" r="1.1" fill="#555"/>
<text x="1660.9" y="1122" text-anchor="middle" dominant-baseline="central" font-size="22.4" fill="#000" stroke="#000" stroke-width="0.25" transform="rotate(-45 1660.9 1122)">Treg</text>
<text x="865.2" y="954.0" text-anchor="middle" dominant-baseline="central" font-size="22.4" transform="translate(865.2 954.0) rotate(-90) scale(1 1.05) translate(-865.2 -954.0)">PAN3-AS1</text>
</g>
<g id="umap3">
<line x1="165.5" y1="1240.2" x2="165.5" y2="1559.5" stroke="#D9D9D9" stroke-width="2"/>
<line x1="218.6" y1="1240.2" x2="218.6" y2="1559.5" stroke="#D9D9D9" stroke-width="2"/>
<line x1="271.8" y1="1240.2" x2="271.8" y2="1559.5" stroke="#D9D9D9" stroke-width="2"/>
<line x1="325" y1="1240.2" x2="325" y2="1559.5" stroke="#D9D9D9" stroke-width="2"/>
<line x1="378.2" y1="1240.2" x2="378.2" y2="1559.5" stroke="#D9D9D9" stroke-width="2"/>
<line x1="431.4" y1="1240.2" x2="431.4" y2="1559.5" stroke="#D9D9D9" stroke-width="2"/>
<line x1="484.5" y1="1240.2" x2="484.5" y2="1559.5" stroke="#D9D9D9" stroke-width="2"/>
<line x1="131.4" y1="1250.9" x2="509.8" y2="1250.9" stroke="#DCDCDC" stroke-width="2"/>
<line x1="131.4" y1="1291.1" x2="509.8" y2="1291.1" stroke="#DCDCDC" stroke-width="2"/>
<line x1="131.4" y1="1331.6" x2="509.8" y2="1331.6" stroke="#DCDCDC" stroke-width="2"/>
<line x1="131.4" y1="1371.8" x2="509.8" y2="1371.8" stroke="#DCDCDC" stroke-width="2"/>
<line x1="131.4" y1="1412" x2="509.8" y2="1412" stroke="#DCDCDC" stroke-width="2"/>
<line x1="131.4" y1="1452.5" x2="509.8" y2="1452.5" stroke="#DCDCDC" stroke-width="2"/>
<line x1="131.4" y1="1493" x2="509.8" y2="1493" stroke="#DCDCDC" stroke-width="2"/>
<line x1="131.4" y1="1533.2" x2="509.8" y2="1533.2" stroke="#DCDCDC" stroke-width="2"/>
<polygon points="408.6,1255 412,1253.4 416.6,1255.5 418.9,1259.5 416.6,1262.3 413.2,1261.4 409.8,1258.4" fill="#D7A12B" stroke="#D7A12B" stroke-width="1.2" stroke-linejoin="round" />
<polygon points="223.4,1308.4 226.8,1305 232.5,1305 237,1308.4 239.3,1314.1 238.2,1320.9 235.9,1325.5 237,1330 242.7,1332.3 251.8,1333.4 258.6,1335.7 262,1340.2 259.8,1345.9 254.1,1349.3 247.3,1348.2 242.7,1350.5 239.3,1355 235.9,1357.3 234.8,1352.7 237,1345.9 238.2,1339.1 237,1333.4 233.6,1327.7 229.1,1320.9 225.7,1315.2" fill="#CF6FBC" stroke="#CF6FBC" stroke-width="1.2" stroke-linejoin="round" />
<polygon points="196.1,1330 198.4,1327.3 203,1327.3 206.4,1330 204.1,1332.3 198.4,1332.3" fill="#C95BB3" stroke="#C95BB3" stroke-width="1.2" stroke-linejoin="round" />
<polygon points="207.5,1330 215.5,1330.5 215.5,1332.3 207.5,1331.8" fill="#C95BB3" stroke="#C95BB3" stroke-width="1.2" stroke-linejoin="round" />
<polygon points="212,1377.7 214.3,1370.9 220,1364.1 226.8,1359.5 233.6,1357.3 235.9,1364.1 233.6,1368.6 240.5,1370.9 247.3,1377.7 245,1384.5 238.2,1389.1 229.1,1390.2 220,1388 214.3,1384.5" fill="#E05A55" stroke="#E05A55" stroke-width="1.2" stroke-linejoin="round" />
<polygon points="381.4,1317.5 385.9,1315.9 391.6,1317.5 395,1319.8 399.5,1320.9 403,1325.5 401.8,1328.9 395,1330 391.6,1328.9 389.3,1323.2 384.8,1320.9" fill="#86C34A" stroke="#86C34A" stroke-width="1.2" stroke-linejoin="round" />
<polygon points="328,1365.2 333.6,1360.7 339.3,1358.4 345,1359.5 344.5,1366.4 341.6,1370.9 335.9,1372 330.2,1369.8" fill="#1C6E5C" stroke="#1C6E5C" stroke-width="1.2" stroke-linejoin="round" />
<polygon points="305.2,1405.5 308.6,1403.6 315.5,1403 320,1402.3 325.7,1403.2 325.7,1404.5 320,1404.5 313.2,1405 308.6,1406.6 305.9,1407.3" fill="#3E8474" stroke="#3E8474" stroke-width="1.2" stroke-linejoin="round" />
<polygon points="276.4,1446.5 283,1444.8 292.9,1442.4 301.2,1441.5 303.7,1447.3 300.4,1454.8 294.6,1457.3 287.9,1453.1 281.3,1454.8 276.4,1453.1 271.4,1449.8" fill="#5C978A" stroke="#5C978A" stroke-width="1.2" stroke-linejoin="round" />
<polygon points="241.6,1428.3 244.9,1427.5 251.5,1429.9 258.1,1430.8 265.6,1430.3 273,1430.8 279.7,1432.4 286.3,1433.2 291.3,1435.7 296.2,1438.2 297.1,1441.5 292.9,1443.2 287.9,1444.8 283,1445.7 278,1447.3 274.7,1447.3 271.4,1444.8 267.3,1443.2 263.9,1440.7 261.5,1439.9 255.7,1439 251.5,1437.4 245.7,1433.2 242.4,1430.8" fill="#2E7A69" stroke="#2E7A69" stroke-width="1.2" stroke-linejoin="round" />
<polygon points="302,1438.2 305.3,1435.7 311.1,1435.3 317.7,1436.6 322.7,1439.9 323.5,1444 320.2,1447.3 317.7,1450.6 314.4,1452.3 311.1,1450.6 307.8,1447.3 304.5,1444.8 302,1441.5" fill="#2E7A69" stroke="#2E7A69" stroke-width="1.2" stroke-linejoin="round" />
<polygon points="283,1453.1 286.3,1452.3 289.6,1453.1 292.9,1457.3 296.2,1459.7 298.7,1463.9 295.4,1468 293.7,1473 292.9,1477.1 290.4,1474.6 286.3,1471.3 283.8,1468.8 279.7,1466.4 281.3,1463 283.8,1459.7" fill="#377F70" stroke="#377F70" stroke-width="1.2" stroke-linejoin="round" />
<polygon points="261.5,1444.8 264.8,1444 268.1,1446.5 268.9,1451.5 265.6,1454.8 263.1,1453.1" fill="#3E8474" stroke="#3E8474" stroke-width="1.2" stroke-linejoin="round" />
<polygon points="263.1,1465.5 265.6,1463 269.7,1462.6 271.4,1465.5 269.7,1466.8 264.8,1466.8" fill="#1C6E5C" stroke="#1C6E5C" stroke-width="1.2" stroke-linejoin="round" />
<polygon points="286.3,1511.1 287.9,1507.7 292.1,1506.5 296.2,1507.7 298.7,1511.1 297.9,1515.2 294.6,1516.9 290.4,1516.9 287.1,1514.4" fill="#337C6C" stroke="#337C6C" stroke-width="1.2" stroke-linejoin="round" />
<polygon points="307,1506.9 309.5,1506.1 312.8,1507.7 312,1509 308.6,1508.6" fill="#337C6C" stroke="#337C6C" stroke-width="1.2" stroke-linejoin="round" />
<polygon points="298.7,1516 301.2,1515.2 302.8,1517.7 302,1522.6 299.5,1523.5 297.9,1520.2" fill="#609A8D" stroke="#609A8D" stroke-width="1.2" stroke-linejoin="round" />
<polygon points="287.9,1527.6 289.6,1525.1 294.6,1523.9 299.5,1522.6 304.5,1523.5 309.5,1524.3 313.6,1526 317.7,1528.4 321.9,1530.9 323.1,1534.2 321.1,1537.5 316.9,1540.9 312.8,1544.2 307.8,1546.7 302,1547.5 296.2,1545.8 292.1,1542.5 289.6,1538.4 288.8,1534.2 287.9,1530.9" fill="#277564" stroke="#277564" stroke-width="1.2" stroke-linejoin="round" />
<polygon points="192.7,1424.3 196.1,1422 198.6,1422.7 195,1425.5" fill="#1C6E5C" stroke="#1C6E5C" stroke-width="1.2" stroke-linejoin="round" />
<polygon points="416.6,1364.1 418.9,1357.3 422.3,1353.9 423.4,1357.3 420,1364.1 418.9,1370.9 418.2,1380 416.6,1380 416.1,1370.9" fill="#2D86C5" stroke="#2D86C5" stroke-width="1.2" stroke-linejoin="round" />
<polygon points="416.1,1380 418.2,1380.5 419.5,1386.8 422.3,1391.4 423.4,1393.6 421.1,1393.6 417.7,1389.1 415.5,1384.5" fill="#E0812A" stroke="#E0812A" stroke-width="1.2" stroke-linejoin="round" />
<polygon points="420,1402.7 424.5,1398.2 431.4,1395.5 438.2,1393.6 447.3,1392.5 454.1,1393.6 460.9,1398.2 470,1400.5 481.4,1401.6 488.2,1402.7 492.7,1406.1 490.5,1411.8 483.6,1413 474.5,1414.1 465.5,1418.6 456.4,1420.9 447.3,1425.5 442.7,1430 442.7,1436.8 440.5,1443.6 437,1445.9 433.6,1443.6 432.5,1434.5 431.4,1425.5 426.8,1416.4 422.3,1411.8 419.5,1407.3" fill="#4DB89E" stroke="#4DB89E" stroke-width="1.2" stroke-linejoin="round" />
<polygon points="422.3,1405 429.1,1399.3 438.2,1398.2 447.3,1400.5 454.1,1405 456.4,1411.8 447.3,1416.4 438.2,1423.2 435.9,1434.5 433.6,1439.1 431.4,1427.7 426.8,1416.4" fill="#5661A8" stroke="#5661A8" stroke-width="1.2" stroke-linejoin="round" />
<polygon points="420,1402.7 424.5,1398.2 431.4,1395.5 438.2,1393.6 447.3,1392.5 451.8,1394.8 442.7,1398.2 433.6,1399.3 426.8,1402.7 424.5,1409.5 420,1407.3" fill="#E0812A" stroke="#E0812A" stroke-width="1.2" stroke-linejoin="round" />
<polygon points="418.2,1495.9 422.3,1494.1 425.7,1495.9 430.2,1498.2 431.4,1500.5 426.8,1502.7 422.3,1503.9 419.5,1501.6" fill="#A3A696" stroke="#A3A696" stroke-width="1.2" stroke-linejoin="round" />
<polygon points="380.2,1373.6 383.6,1372.7 387,1375 384.8,1376.6 381.4,1375.9" fill="#E0812A" stroke="#E0812A" stroke-width="1.2" stroke-linejoin="round" />
<polygon points="147.3,1363.6 149.5,1361.8 150.9,1363 148.6,1364.8" fill="#6A45A0" stroke="#6A45A0" stroke-width="1.2" stroke-linejoin="round" />
<text x="414.3" y="1254.3" font-size="15.6" fill="#000" stroke="#000" stroke-width="0.3">Mast</text>
<text x="395.5" y="1319.8" font-size="15.6" fill="#000" stroke="#000" stroke-width="0.3">Endothelial</text>
<text x="238.2" y="1328.2" font-size="15.6" fill="#000" stroke="#000" stroke-width="0.3">Fibroblasts</text>
<text x="422.3" y="1356.6" font-size="15.6" fill="#000" stroke="#000" stroke-width="0.3">Mono/Macro</text>
<text x="150.2" y="1359.5" font-size="15.6" fill="#000" stroke="#000" stroke-width="0.3">Myocyte</text>
<text x="230.7" y="1374.3" font-size="15.6" fill="#000" stroke="#000" stroke-width="0.3">Myofibroblasts</text>
<text x="428" y="1390.9" font-size="15.6" fill="#000" stroke="#000" stroke-width="0.3">CD4Tconv</text>
<text x="445" y="1406.8" font-size="15.6" fill="#000" stroke="#000" stroke-width="0.3">CD8T</text>
<text x="404.5" y="1425.5" font-size="15.6" fill="#000" stroke="#000" stroke-width="0.3">CD8Tex</text>
<text x="297.7" y="1458.4" font-size="15.6" fill="#000" stroke="#000" stroke-width="0.3">Malignant</text>
<text x="425.7" y="1491.8" font-size="15.6" fill="#000" stroke="#000" stroke-width="0.3">Plasma</text>
</g>
<text x="546.2" y="1319.7" font-size="14.6" fill="#222">Celltype (major-lineage)</text>
<ellipse cx="558.7" cy="1332.5" rx="4.8" ry="4.2" fill="#E0812A"/>
<text x="571.6" y="1336.9" font-size="12.3" fill="#222">CD4Tconv</text>
<ellipse cx="558.7" cy="1347.7" rx="4.8" ry="4.2" fill="#5661A8"/>
<text x="571.6" y="1352.1" font-size="12.3" fill="#222">CD8T</text>
<ellipse cx="558.7" cy="1362.9" rx="4.8" ry="4.2" fill="#4DB89E"/>
<text x="571.6" y="1367.3" font-size="12.3" fill="#222">CD8Tex</text>
<ellipse cx="558.7" cy="1378.1" rx="4.8" ry="4.2" fill="#86C34A"/>
<text x="571.6" y="1382.5" font-size="12.3" fill="#222">Endothelial</text>
<ellipse cx="558.7" cy="1393.3" rx="4.8" ry="4.2" fill="#C95BB3"/>
<text x="571.6" y="1397.7" font-size="12.3" fill="#222">Fibroblasts</text>
<ellipse cx="558.7" cy="1408.5" rx="4.8" ry="4.2" fill="#1C6E5C"/>
<text x="571.6" y="1412.9" font-size="12.3" fill="#222">Malignant</text>
<ellipse cx="558.7" cy="1423.6" rx="4.8" ry="4.2" fill="#D7A12B"/>
<text x="571.6" y="1428" font-size="12.3" fill="#222">Mast</text>
<ellipse cx="558.7" cy="1438.8" rx="4.8" ry="4.2" fill="#2D86C5"/>
<text x="571.6" y="1443.2" font-size="12.3" fill="#222">Mono/Macro</text>
<ellipse cx="558.7" cy="1454" rx="4.8" ry="4.2" fill="#6A45A0"/>
<text x="571.6" y="1458.4" font-size="12.3" fill="#222">Myocyte</text>
<ellipse cx="558.7" cy="1469.2" rx="4.8" ry="4.2" fill="#E05A55"/>
<text x="571.6" y="1473.6" font-size="12.3" fill="#222">Myofibroblasts</text>
<ellipse cx="558.7" cy="1484.4" rx="4.8" ry="4.2" fill="#A3A696"/>
<text x="571.6" y="1488.8" font-size="12.3" fill="#222">Plasma</text>
<g id="violin3">
<line x1="914.2" y1="1451.7" x2="1693.4" y2="1451.7" stroke="#E4E4E4" stroke-width="1.6"/>
<text x="905.2" y="1454.3" text-anchor="end" font-family="DejaVu Sans, sans-serif" font-size="7.2" fill="#333" transform="translate(905.2 1451.7) scale(1.2 0.98) translate(-905.2 -1451.7)">0.00</text>
<line x1="914.2" y1="1422.5" x2="1693.4" y2="1422.5" stroke="#E4E4E4" stroke-width="1.6"/>
<text x="905.2" y="1425.1" text-anchor="end" font-family="DejaVu Sans, sans-serif" font-size="7.2" fill="#333" transform="translate(905.2 1422.5) scale(1.2 0.98) translate(-905.2 -1422.5)">0.25</text>
<line x1="914.2" y1="1393.3" x2="1693.4" y2="1393.3" stroke="#E4E4E4" stroke-width="1.6"/>
<text x="905.2" y="1395.9" text-anchor="end" font-family="DejaVu Sans, sans-serif" font-size="7.2" fill="#333" transform="translate(905.2 1393.3) scale(1.2 0.98) translate(-905.2 -1393.3)">0.50</text>
<line x1="914.2" y1="1364.1" x2="1693.4" y2="1364.1" stroke="#E4E4E4" stroke-width="1.6"/>
<text x="905.2" y="1366.7" text-anchor="end" font-family="DejaVu Sans, sans-serif" font-size="7.2" fill="#333" transform="translate(905.2 1364.1) scale(1.2 0.98) translate(-905.2 -1364.1)">0.75</text>
<line x1="914.2" y1="1334.9" x2="1693.4" y2="1334.9" stroke="#E4E4E4" stroke-width="1.6"/>
<text x="905.2" y="1337.5" text-anchor="end" font-family="DejaVu Sans, sans-serif" font-size="7.2" fill="#333" transform="translate(905.2 1334.9) scale(1.2 0.98) translate(-905.2 -1334.9)">1.00</text>
<line x1="914.2" y1="1305.7" x2="1693.4" y2="1305.7" stroke="#E4E4E4" stroke-width="1.6"/>
<text x="905.2" y="1308.3" text-anchor="end" font-family="DejaVu Sans, sans-serif" font-size="7.2" fill="#333" transform="translate(905.2 1305.7) scale(1.2 0.98) translate(-905.2 -1305.7)">1.25</text>
<line x1="914.2" y1="1276.5" x2="1693.4" y2="1276.5" stroke="#E4E4E4" stroke-width="1.6"/>
<text x="905.2" y="1279.1" text-anchor="end" font-family="DejaVu Sans, sans-serif" font-size="7.2" fill="#333" transform="translate(905.2 1276.5) scale(1.2 0.98) translate(-905.2 -1276.5)">1.50</text>
<line x1="914.2" y1="1247.3" x2="1693.4" y2="1247.3" stroke="#E4E4E4" stroke-width="1.6"/>
<text x="905.2" y="1249.9" text-anchor="end" font-family="DejaVu Sans, sans-serif" font-size="7.2" fill="#333" transform="translate(905.2 1247.3) scale(1.2 0.98) translate(-905.2 -1247.3)">1.75</text>
<line x1="914.2" y1="1218.1" x2="1693.4" y2="1218.1" stroke="#E4E4E4" stroke-width="1.6"/>
<text x="905.2" y="1220.7" text-anchor="end" font-family="DejaVu Sans, sans-serif" font-size="7.2" fill="#333" transform="translate(905.2 1218.1) scale(1.2 0.98) translate(-905.2 -1218.1)">2.00</text>
<line x1="913.7" y1="1208.6" x2="913.7" y2="1463.5" stroke="#D3D3D3" stroke-width="1.3"/>
<line x1="913.7" y1="1463.5" x2="1693.4" y2="1463.5" stroke="#D9D9D9" stroke-width="1.3"/>
<polygon points="921.1,1451.7 923.4,1451.2 925.6,1450.7 927.8,1450.3 929.9,1449.8 931.9,1449.3 933.9,1448.8 935.9,1448.3 937.8,1447.9 939.6,1447.4 941.3,1446.9 943,1446.4 944.5,1445.9 946,1445.4 947.3,1445 948.3,1444.5 948.3,1444 950,1444 950,1444.5 951,1445 952.3,1445.4 953.8,1445.9 955.3,1446.4 957,1446.9 958.7,1447.4 960.5,1447.9 962.4,1448.3 964.3,1448.8 966.3,1449.3 968.4,1449.8 970.5,1450.3 972.7,1450.7 974.9,1451.2 977.1,1451.7" fill="#C98241" stroke="#1E1E1E" stroke-width="0.9" stroke-linejoin="round"/>
<line x1="949.1" y1="1270.3" x2="949.1" y2="1444.5" stroke="#3A3A3A" stroke-width="1.5"/>
<circle cx="949.1" cy="1451.7" r="1.1" fill="#555"/>
<text x="937.3" y="1512.9" text-anchor="middle" dominant-baseline="central" font-size="22.4" fill="#000" stroke="#000" stroke-width="0.25" transform="rotate(-45 937.3 1512.9)">CD4 T conv</text>
<polygon points="992,1451.7 994.6,1450.7 997.1,1449.8 999.5,1448.8 1001.8,1447.9 1004.1,1446.9 1006.2,1446 1008.2,1445 1010.1,1444 1011.9,1443.1 1013.6,1442.1 1015.1,1441.2 1016.5,1440.2 1017.7,1439.3 1018.8,1438.3 1019.2,1437.4 1019.2,1436.4 1020.9,1436.4 1020.9,1437.4 1021.3,1438.3 1022.3,1439.3 1023.5,1440.2 1024.9,1441.2 1026.5,1442.1 1028.1,1443.1 1029.9,1444 1031.8,1445 1033.9,1446 1036,1446.9 1038.2,1447.9 1040.5,1448.8 1042.9,1449.8 1045.4,1450.7 1048,1451.7" fill="#60689E" stroke="#1E1E1E" stroke-width="0.9" stroke-linejoin="round"/>
<line x1="1020" y1="1219.7" x2="1020" y2="1436.9" stroke="#3A3A3A" stroke-width="1.5"/>
<circle cx="1020" cy="1451.7" r="1.1" fill="#555"/>
<text x="1012.5" y="1514" text-anchor="middle" dominant-baseline="central" font-size="22.4" fill="#000" stroke="#000" stroke-width="0.25" transform="rotate(-45 1012.5 1514)">CD8T</text>
<polygon points="1062.9,1451.7 1065.2,1451.5 1067.4,1451.2 1069.5,1451 1071.6,1450.7 1073.7,1450.5 1075.7,1450.2 1077.7,1450 1079.5,1449.7 1081.3,1449.5 1083.1,1449.2 1084.7,1449 1086.3,1448.7 1087.7,1448.5 1089,1448.2 1090.1,1448 1090.1,1447.7 1091.7,1447.7 1091.7,1448 1092.8,1448.2 1094.1,1448.5 1095.5,1448.7 1097.1,1449 1098.7,1449.2 1100.5,1449.5 1102.3,1449.7 1104.2,1450 1106.1,1450.2 1108.1,1450.5 1110.2,1450.7 1112.3,1451 1114.4,1451.2 1116.6,1451.5 1118.9,1451.7" fill="#5AAB97" stroke="#1E1E1E" stroke-width="0.9" stroke-linejoin="round"/>
<line x1="1090.9" y1="1340.7" x2="1090.9" y2="1448.2" stroke="#3A3A3A" stroke-width="1.5"/>
<circle cx="1090.9" cy="1451.7" r="1.1" fill="#555"/>
<text x="1086.4" y="1515.8" text-anchor="middle" dominant-baseline="central" font-size="22.4" fill="#000" stroke="#000" stroke-width="0.25" transform="rotate(-45 1086.4 1515.8)">CD8 Tex</text>
<polygon points="1133.8,1451.7 1136,1451.5 1138.2,1451.4 1140.4,1451.2 1142.5,1451.1 1144.6,1450.9 1146.6,1450.8 1148.5,1450.6 1150.4,1450.5 1152.2,1450.3 1154,1450.1 1155.6,1450 1157.2,1449.8 1158.6,1449.7 1159.9,1449.5 1160.9,1449.4 1160.9,1449.2 1162.6,1449.2 1162.6,1449.4 1163.7,1449.5 1165,1449.7 1166.4,1449.8 1168,1450 1169.6,1450.1 1171.3,1450.3 1173.2,1450.5 1175,1450.6 1177,1450.8 1179,1450.9 1181,1451.1 1183.2,1451.2 1185.3,1451.4 1187.5,1451.5 1189.8,1451.7" fill="#86B459" stroke="#1E1E1E" stroke-width="0.9" stroke-linejoin="round"/>
<line x1="1161.8" y1="1394.7" x2="1161.8" y2="1449.7" stroke="#3A3A3A" stroke-width="1.5"/>
<circle cx="1161.8" cy="1451.7" r="1.1" fill="#555"/>
<text x="1153.3" y="1512.9" text-anchor="middle" dominant-baseline="central" font-size="22.4" fill="#000" stroke="#000" stroke-width="0.25" transform="rotate(-45 1153.3 1512.9)">Endothelial</text>
<polygon points="1204.7,1451.7 1206.9,1451.4 1209.1,1451 1211.3,1450.7 1213.4,1450.4 1215.5,1450 1217.5,1449.7 1219.4,1449.3 1221.3,1449 1223.1,1448.7 1224.8,1448.3 1226.5,1448 1228.1,1447.7 1229.5,1447.3 1230.8,1447 1231.8,1446.6 1231.8,1446.3 1233.5,1446.3 1233.5,1446.6 1234.5,1447 1235.8,1447.3 1237.3,1447.7 1238.8,1448 1240.5,1448.3 1242.2,1448.7 1244,1449 1245.9,1449.3 1247.9,1449.7 1249.9,1450 1251.9,1450.4 1254,1450.7 1256.2,1451 1258.4,1451.4 1260.7,1451.7" fill="#BB69AB" stroke="#1E1E1E" stroke-width="0.9" stroke-linejoin="round"/>
<line x1="1232.7" y1="1282.5" x2="1232.7" y2="1446.8" stroke="#3A3A3A" stroke-width="1.5"/>
<circle cx="1232.7" cy="1451.7" r="1.1" fill="#555"/>
<text x="1221.3" y="1514" text-anchor="middle" dominant-baseline="central" font-size="22.4" fill="#000" stroke="#000" stroke-width="0.25" transform="rotate(-45 1221.3 1514)">Fibroblasts</text>
<polygon points="1275.6,1451.7 1277.8,1451.5 1280,1451.2 1282.2,1451 1284.3,1450.7 1286.3,1450.5 1288.4,1450.2 1290.3,1450 1292.2,1449.7 1294,1449.5 1295.7,1449.2 1297.4,1449 1298.9,1448.7 1300.4,1448.5 1301.7,1448.2 1302.7,1448 1302.7,1447.7 1304.4,1447.7 1304.4,1448 1305.4,1448.2 1306.7,1448.5 1308.2,1448.7 1309.7,1449 1311.4,1449.2 1313.1,1449.5 1314.9,1449.7 1316.8,1450 1318.7,1450.2 1320.8,1450.5 1322.8,1450.7 1324.9,1451 1327.1,1451.2 1329.3,1451.5 1331.5,1451.7" fill="#266456" stroke="#1E1E1E" stroke-width="0.9" stroke-linejoin="round"/>
<line x1="1303.6" y1="1266.3" x2="1303.6" y2="1448.2" stroke="#3A3A3A" stroke-width="1.5"/>
<circle cx="1303.6" cy="1451.7" r="1.1" fill="#555"/>
<text x="1289" y="1514.5" text-anchor="middle" dominant-baseline="central" font-size="22.4" fill="#000" stroke="#000" stroke-width="0.25" transform="rotate(-45 1289 1514.5)">Malignant</text>
<polygon points="1346.4,1451.7 1349,1450.7 1351.5,1449.6 1353.9,1448.6 1356.2,1447.5 1358.5,1446.5 1360.6,1445.4 1362.6,1444.4 1364.5,1443.4 1366.3,1442.3 1368,1441.3 1369.5,1440.2 1370.9,1439.2 1372.2,1438.1 1373.2,1437.1 1373.6,1436 1373.6,1435 1375.3,1435 1375.3,1436 1375.7,1437.1 1376.7,1438.1 1377.9,1439.2 1379.3,1440.2 1380.9,1441.3 1382.5,1442.3 1384.3,1443.4 1386.2,1444.4 1388.3,1445.4 1390.4,1446.5 1392.6,1447.5 1394.9,1448.6 1397.3,1449.6 1399.8,1450.7 1402.4,1451.7" fill="#C29940" stroke="#1E1E1E" stroke-width="0.9" stroke-linejoin="round"/>
<line x1="1374.4" y1="1272.1" x2="1374.4" y2="1435.5" stroke="#3A3A3A" stroke-width="1.5"/>
<circle cx="1374.4" cy="1451.7" r="1.1" fill="#555"/>
<text x="1364.1" y="1516.4" text-anchor="middle" dominant-baseline="central" font-size="22.4" fill="#000" stroke="#000" stroke-width="0.25" transform="rotate(-45 1364.1 1516.4)">Mast</text>
<line x1="1417.3" y1="1451.7" x2="1473.3" y2="1451.7" stroke="#8F8F8F" stroke-width="1.8"/>
<text x="1429.4" y="1513.9" text-anchor="middle" dominant-baseline="central" font-size="22.4" fill="#000" stroke="#000" stroke-width="0.25" transform="rotate(-45 1429.4 1513.9)">Mono/Macro</text>
<line x1="1488.2" y1="1451.7" x2="1544.2" y2="1451.7" stroke="#8F8F8F" stroke-width="1.8"/>
<text x="1501.4" y="1515.7" text-anchor="middle" dominant-baseline="central" font-size="22.4" fill="#000" stroke="#000" stroke-width="0.25" transform="rotate(-45 1501.4 1515.7)">Myocyte</text>
<polygon points="1559.1,1451.7 1561.3,1451.3 1563.5,1450.9 1565.7,1450.5 1567.8,1450.1 1569.9,1449.7 1571.9,1449.3 1573.8,1448.9 1575.7,1448.5 1577.5,1448.1 1579.3,1447.7 1580.9,1447.3 1582.5,1446.9 1583.9,1446.5 1585.2,1446.1 1586.2,1445.7 1586.2,1445.3 1587.9,1445.3 1587.9,1445.7 1589,1446.1 1590.3,1446.5 1591.7,1446.9 1593.2,1447.3 1594.9,1447.7 1596.6,1448.1 1598.4,1448.5 1600.3,1448.9 1602.3,1449.3 1604.3,1449.7 1606.3,1450.1 1608.5,1450.5 1610.6,1450.9 1612.8,1451.3 1615.1,1451.7" fill="#CF6A66" stroke="#1E1E1E" stroke-width="0.9" stroke-linejoin="round"/>
<line x1="1587.1" y1="1294.1" x2="1587.1" y2="1445.8" stroke="#3A3A3A" stroke-width="1.5"/>
<circle cx="1587.1" cy="1451.7" r="1.1" fill="#555"/>
<text x="1575.3" y="1512.5" text-anchor="middle" dominant-baseline="central" font-size="22.4" fill="#000" stroke="#000" stroke-width="0.25" transform="rotate(-45 1575.3 1512.5)">Myofibroblasts</text>
<line x1="1630" y1="1451.7" x2="1686" y2="1451.7" stroke="#8F8F8F" stroke-width="1.8"/>
<text x="1648.4" y="1516.5" text-anchor="middle" dominant-baseline="central" font-size="22.4" fill="#000" stroke="#000" stroke-width="0.25" transform="rotate(-45 1648.4 1516.5)">Plasma</text>
<text x="865.2" y="1339.0" text-anchor="middle" dominant-baseline="central" font-size="22.4" transform="translate(865.2 1339.0) rotate(-90) scale(1 1.05) translate(-865.2 -1339.0)">PAN3-AS1</text>
</g>
</svg></body></html>
